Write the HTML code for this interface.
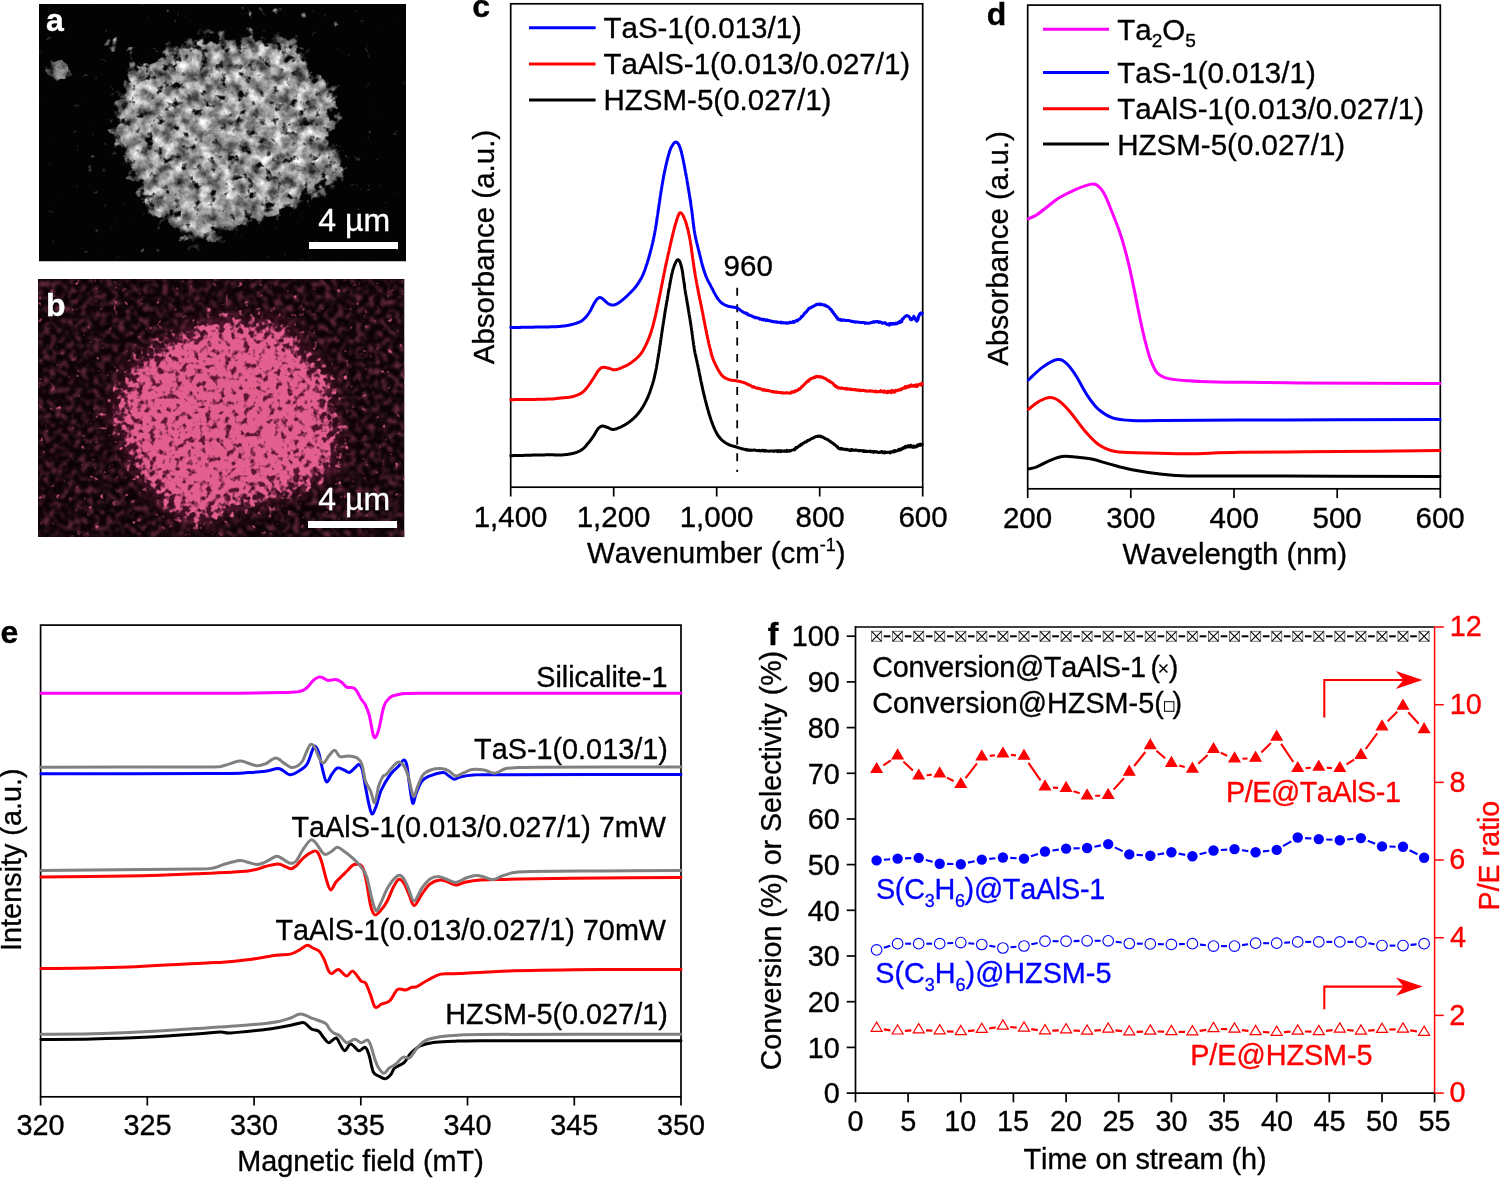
<!DOCTYPE html><html><head><meta charset="utf-8"><style>html,body{margin:0;padding:0;background:#fff;overflow:hidden}svg{display:block}text{font-family:"Liberation Sans",sans-serif;font-kerning:none;font-feature-settings:"kern" 0;stroke-width:0.35px;stroke-linejoin:round}</style></head><body>
<svg width="1500" height="1178" viewBox="0 0 1500 1178" style="will-change:transform">
<rect width="1500" height="1178" fill="#fff"/>
<defs>
<filter id="texA" x="0" y="0" width="1" height="1" color-interpolation-filters="sRGB">
 <feTurbulence type="fractalNoise" baseFrequency="0.05" numOctaves="4" seed="7"/>
 <feColorMatrix type="matrix" values="1.15 0 0 0 0  1.15 0 0 0 0  1.15 0 0 0 0  0 0 0 0 1"/>
</filter>
<filter id="blurA" x="-20%" y="-20%" width="140%" height="140%"><feTurbulence type="fractalNoise" baseFrequency="0.07" numOctaves="3" seed="2" result="t"/><feDisplacementMap in="SourceGraphic" in2="t" scale="22" xChannelSelector="R" yChannelSelector="G"/><feGaussianBlur stdDeviation="2.5"/></filter>
<filter id="blurA2" x="-50%" y="-50%" width="200%" height="200%"><feGaussianBlur stdDeviation="3"/></filter>
<filter id="blurB" x="-20%" y="-20%" width="140%" height="140%"><feTurbulence type="fractalNoise" baseFrequency="0.05" numOctaves="2" seed="9" result="t"/><feDisplacementMap in="SourceGraphic" in2="t" scale="26" xChannelSelector="R" yChannelSelector="G"/><feGaussianBlur stdDeviation="7"/></filter>
<filter id="texB1" x="0" y="0" width="1" height="1" color-interpolation-filters="sRGB">
 <feTurbulence type="fractalNoise" baseFrequency="0.16" numOctaves="2" seed="11"/>
 <feColorMatrix type="matrix" values="0 0 0 0 0.89  0 0 0 0 0.38  0 0 0 0 0.55  6 0 0 0 -1.75"/>
 <feGaussianBlur stdDeviation="0.7"/>
</filter>
<filter id="texB2" x="0" y="0" width="1" height="1" color-interpolation-filters="sRGB">
 <feTurbulence type="fractalNoise" baseFrequency="0.17" numOctaves="2" seed="4"/>
 <feColorMatrix type="matrix" values="0 0 0 0 0.55  0 0 0 0 0.17  0 0 0 0 0.33  4 0 0 0 -2.15"/>
 <feGaussianBlur stdDeviation="0.7"/>
</filter>
<filter id="fBlob" x="-40%" y="-40%" width="180%" height="180%" color-interpolation-filters="sRGB">
 <feTurbulence type="fractalNoise" baseFrequency="0.06" numOctaves="2" seed="9" result="t"/>
 <feDisplacementMap in="SourceGraphic" in2="t" scale="30" xChannelSelector="R" yChannelSelector="G" result="d"/>
 <feGaussianBlur in="d" stdDeviation="11" result="m"/>
 <feTurbulence type="fractalNoise" baseFrequency="0.16" numOctaves="2" seed="4" result="n"/>
 <feColorMatrix in="n" type="matrix" values="0 0 0 0 0  0 0 0 0 0  0 0 0 0 0  1 0 0 0 0" result="na"/>
 <feComposite in="m" in2="na" operator="arithmetic" k1="0" k2="2.15" k3="5" k4="-3.5" result="c"/>
 <feFlood flood-color="#e3608e" result="f"/>
 <feComposite in="f" in2="c" operator="in"/>
</filter>
<filter id="fBg" x="0" y="0" width="1" height="1" color-interpolation-filters="sRGB">
 <feTurbulence type="fractalNoise" baseFrequency="0.16" numOctaves="3" seed="21" result="n"/>
 <feColorMatrix in="n" type="matrix" values="0 0 0 0 0.4  0 0 0 0 0.16  0 0 0 0 0.25  3.5 0 0 0 -1.62"/>
 <feGaussianBlur stdDeviation="0.8"/>
</filter>
<filter id="fSpots" x="-40%" y="-40%" width="180%" height="180%" color-interpolation-filters="sRGB">
 <feTurbulence type="fractalNoise" baseFrequency="0.06" numOctaves="2" seed="9" result="t"/>
 <feDisplacementMap in="SourceGraphic" in2="t" scale="30" xChannelSelector="R" yChannelSelector="G" result="d"/>
 <feGaussianBlur in="d" stdDeviation="11" result="m"/>
 <feFlood flood-color="#5a1430"/>
 <feComposite in2="m" operator="in"/>
</filter>
<filter id="fA" x="-40%" y="-40%" width="180%" height="180%" color-interpolation-filters="sRGB">
 <feTurbulence type="fractalNoise" baseFrequency="0.07" numOctaves="3" seed="2" result="t"/>
 <feDisplacementMap in="SourceGraphic" in2="t" scale="22" xChannelSelector="R" yChannelSelector="G" result="d"/>
 <feGaussianBlur in="d" stdDeviation="7" result="m"/>
 <feTurbulence type="fractalNoise" baseFrequency="0.11" numOctaves="3" seed="5" result="n"/>
 <feColorMatrix in="n" type="matrix" values="0 0 0 0 0  0 0 0 0 0  0 0 0 0 0  1 0 0 0 0" result="na"/>
 <feComposite in="m" in2="na" operator="arithmetic" k1="0" k2="2.7" k3="5" k4="-3.75" result="c"/>
 <feTurbulence type="fractalNoise" baseFrequency="0.085" numOctaves="3" seed="7" result="g"/>
 <feColorMatrix in="g" type="matrix" values="1.25 0 0 0 -0.03  1.25 0 0 0 -0.03  1.25 0 0 0 -0.03  0 0 0 0 1" result="gray"/>
 <feColorMatrix in="m" type="matrix" values="0 0 0 0 0  0 0 0 0 0  0 0 0 0 0  0 0 0 -0.5 0.5" result="shade"/>
 <feComposite in="shade" in2="gray" operator="over" result="gs"/>
 <feComposite in="gs" in2="c" operator="in"/>
</filter>
<filter id="fP" x="-60%" y="-60%" width="220%" height="220%" color-interpolation-filters="sRGB">
 <feGaussianBlur in="SourceGraphic" stdDeviation="3" result="m"/>
 <feTurbulence type="fractalNoise" baseFrequency="0.15" numOctaves="2" seed="13" result="n"/>
 <feColorMatrix in="n" type="matrix" values="0 0 0 0 0  0 0 0 0 0  0 0 0 0 0  1 0 0 0 0" result="na"/>
 <feComposite in="m" in2="na" operator="arithmetic" k1="0" k2="3.3" k3="5" k4="-4.3" result="c"/>
 <feTurbulence type="fractalNoise" baseFrequency="0.09" numOctaves="3" seed="8" result="g"/>
 <feColorMatrix in="g" type="matrix" values="1.0 0 0 0 -0.1  1.0 0 0 0 -0.1  1.0 0 0 0 -0.1  0 0 0 0 1" result="gray"/>
 <feComposite in="gray" in2="c" operator="in"/>
</filter>
<clipPath id="cA"><rect x="39" y="4" width="367" height="257.5"/></clipPath>
<clipPath id="cB"><rect x="38" y="279" width="366.5" height="258"/></clipPath>
<mask id="mA" maskUnits="userSpaceOnUse" x="0" y="0" width="1500" height="1178"><rect x="0" y="0" width="1500" height="1178" fill="#000"/>
<path filter="url(#blurA)" fill="#fff" d="M215,35 L235,41 L259,36 L289,38 L306,53 L308,72 L333,87 L338,107 L333,131 L340,156 L345,178 L328,190 L308,200 L284,212 L259,219 L235,229 L210,239 L191,244 L176,229 L154,214 L137,197 L132,175 L120,156 L110,141 L117,112 L122,85 L132,65 L154,58 L171,53 L191,41 Z"/>
</mask>
<mask id="mA2" maskUnits="userSpaceOnUse" x="0" y="0" width="1500" height="1178"><rect x="0" y="0" width="1500" height="1178" fill="#000"/>
<g filter="url(#blurA2)" fill="#fff">
<ellipse cx="58" cy="70" rx="12" ry="9" opacity="0.75"/>
<ellipse cx="110" cy="44" rx="9" ry="8" opacity="0.45"/>
<ellipse cx="128" cy="48" rx="6" ry="6" opacity="0.4"/>
<ellipse cx="265" cy="12" rx="30" ry="8" opacity="0.3"/>
<ellipse cx="305" cy="10" rx="14" ry="7" opacity="0.35"/>
<ellipse cx="170" cy="14" rx="18" ry="7" opacity="0.25"/>
<ellipse cx="90" cy="160" rx="5" ry="16" opacity="0.3"/>
<ellipse cx="370" cy="200" rx="18" ry="22" opacity="0.15"/>
<ellipse cx="335" cy="30" rx="12" ry="12" opacity="0.2"/>
</g>
</mask>
<mask id="mB" maskUnits="userSpaceOnUse" x="0" y="0" width="1500" height="1178"><rect x="0" y="0" width="1500" height="1178" fill="#000"/>
<path filter="url(#blurB)" fill="#fff" d="M175,338 L209,326 L246,321 L283,326 L300,338 L307,360 L329,372 L332,394 L329,416 L334,438 L339,458 L327,472 L295,489 L263,499 L229,511 L195,521 L175,516 L155,494 L141,475 L131,455 L119,436 L114,416 L121,389 L131,367 L151,350 Z"/>
</mask>
<mask id="mBo" maskUnits="userSpaceOnUse" x="0" y="0" width="1500" height="1178"><rect x="0" y="0" width="1500" height="1178" fill="#fff"/>
<path filter="url(#blurB)" fill="#000" d="M175,338 L209,326 L246,321 L283,326 L300,338 L307,360 L329,372 L332,394 L329,416 L334,438 L339,458 L327,472 L295,489 L263,499 L229,511 L195,521 L175,516 L155,494 L141,475 L131,455 L119,436 L114,416 L121,389 L131,367 L151,350 Z"/>
</mask>
</defs>
<g clip-path="url(#cA)">
<rect x="39" y="4" width="367" height="257.5" fill="#030303"/>
<g filter="url(#fP)" fill="#fff"><ellipse cx="58" cy="70" rx="14" ry="11"/><ellipse cx="112" cy="44" rx="10" ry="9" opacity="0.75"/><ellipse cx="132" cy="50" rx="7" ry="7" opacity="0.5"/><ellipse cx="150" cy="58" rx="9" ry="6" opacity="0.5"/><ellipse cx="265" cy="12" rx="32" ry="9" opacity="0.4"/><ellipse cx="312" cy="12" rx="16" ry="8" opacity="0.45"/><ellipse cx="175" cy="14" rx="20" ry="8" opacity="0.35"/><ellipse cx="92" cy="160" rx="5" ry="17" opacity="0.45"/><ellipse cx="370" cy="200" rx="18" ry="22" opacity="0.25"/><ellipse cx="340" cy="30" rx="12" ry="12" opacity="0.3"/></g>
<path d="M215,35 L235,41 L259,36 L289,38 L306,53 L308,72 L333,87 L338,107 L333,131 L340,156 L345,178 L328,190 L308,200 L284,212 L259,219 L235,229 L210,239 L191,244 L176,229 L154,214 L137,197 L132,175 L120,156 L110,141 L117,112 L122,85 L132,65 L154,58 L171,53 L191,41 Z" fill="#fff" filter="url(#fA)"/>
</g>
<rect x="309" y="242" width="89" height="7" fill="#fff"/>
<text x="318.3" y="230.6" font-size="32" fill="#fff" stroke="#fff" text-anchor="start">4 µm</text>
<text x="46.1" y="31.4" font-size="32" fill="#fff" stroke="#fff" text-anchor="start" font-weight="bold">a</text>
<g clip-path="url(#cB)">
<rect x="38" y="279" width="366.5" height="258" fill="#0d0306"/>
<rect x="38" y="279" width="366.5" height="258" filter="url(#fBg)"/>
<path d="M175,338 L209,326 L246,321 L283,326 L300,338 L307,360 L329,372 L332,394 L329,416 L334,438 L339,458 L327,472 L295,489 L263,499 L229,511 L195,521 L175,516 L155,494 L141,475 L131,455 L119,436 L114,416 L121,389 L131,367 L151,350 Z" fill="#fff" filter="url(#fSpots)"/>
<path d="M175,338 L209,326 L246,321 L283,326 L300,338 L307,360 L329,372 L332,394 L329,416 L334,438 L339,458 L327,472 L295,489 L263,499 L229,511 L195,521 L175,516 L155,494 L141,475 L131,455 L119,436 L114,416 L121,389 L131,367 L151,350 Z" fill="#fff" filter="url(#fBlob)"/>
</g>
<rect x="308" y="521" width="89" height="7" fill="#fff"/>
<text x="318.3" y="509.5" font-size="32" fill="#fff" stroke="#fff" text-anchor="start">4 µm</text>
<text x="45.9" y="315.9" font-size="32" fill="#fff" stroke="#fff" text-anchor="start" font-weight="bold">b</text>
<rect x="510.7" y="3.8" width="412.00000000000006" height="483.4" fill="none" stroke="#000" stroke-width="1.7"/>
<line x1="510.7" y1="487.2" x2="510.7" y2="496.5" stroke="#000" stroke-width="1.7"/>
<text x="473.7" y="526.5" font-size="29.5" fill="#000" stroke="#000" text-anchor="start">1,400</text>
<line x1="613.7" y1="487.2" x2="613.7" y2="496.5" stroke="#000" stroke-width="1.7"/>
<text x="576.7" y="526.5" font-size="29.5" fill="#000" stroke="#000" text-anchor="start">1,200</text>
<line x1="716.7" y1="487.2" x2="716.7" y2="496.5" stroke="#000" stroke-width="1.7"/>
<text x="679.7" y="526.5" font-size="29.5" fill="#000" stroke="#000" text-anchor="start">1,000</text>
<line x1="819.7" y1="487.2" x2="819.7" y2="496.5" stroke="#000" stroke-width="1.7"/>
<text x="795.5" y="526.5" font-size="29.5" fill="#000" stroke="#000" text-anchor="start">800</text>
<line x1="922.7" y1="487.2" x2="922.7" y2="496.5" stroke="#000" stroke-width="1.7"/>
<text x="898.4" y="526.5" font-size="29.5" fill="#000" stroke="#000" text-anchor="start">600</text>
<text x="587" y="563.2" font-size="29.5" fill="#000" stroke="#000">Wavenumber (cm<tspan font-size="18" dy="-12.5">-1</tspan><tspan dy="12.5">)</tspan></text>
<text transform="translate(493.9,247.04) rotate(-90)" font-size="29.5" text-anchor="middle" fill="#000" stroke="#000">Absorbance (a.u.)</text>
<text x="472.2" y="17.2" font-size="32" fill="#000" stroke="#000" text-anchor="start" font-weight="bold">c</text>
<line x1="529" y1="27.7" x2="595.6" y2="27.7" stroke="#0000ff" stroke-width="3"/>
<text x="603.5" y="38.3" font-size="29.5" fill="#000" stroke="#000" text-anchor="start">TaS-1(0.013/1)</text>
<line x1="529" y1="64" x2="595.6" y2="64" stroke="#ff0000" stroke-width="3"/>
<text x="603.5" y="74.2" font-size="29.5" fill="#000" stroke="#000" text-anchor="start">TaAlS-1(0.013/0.027/1)</text>
<line x1="529" y1="100" x2="595.6" y2="100" stroke="#000" stroke-width="3"/>
<text x="603.5" y="110.4" font-size="29.5" fill="#000" stroke="#000" text-anchor="start">HZSM-5(0.027/1)</text>
<text x="723.6" y="276.4" font-size="29.5" fill="#000" stroke="#000" text-anchor="start">960</text>
<line x1="737.2" y1="287.8" x2="737.2" y2="472.1" stroke="#000" stroke-width="1.8" stroke-dasharray="8,8.55"/>
<path d="M510.8,455.7 L511.1,455.7 L511.5,455.7 L511.8,455.7 L512.2,455.7 L512.6,455.7 L513.1,455.6 L513.5,455.6 L514.0,455.6 L514.5,455.6 L515.0,455.6 L515.5,455.6 L516.1,455.6 L516.7,455.6 L517.2,455.5 L517.8,455.5 L518.5,455.5 L519.1,455.5 L519.7,455.5 L520.4,455.5 L521.0,455.4 L521.7,455.4 L522.4,455.4 L523.1,455.4 L523.8,455.4 L524.5,455.3 L525.2,455.3 L525.9,455.3 L526.6,455.3 L527.4,455.3 L528.1,455.3 L528.8,455.2 L529.6,455.2 L530.3,455.2 L531.0,455.2 L531.8,455.2 L532.5,455.1 L533.2,455.1 L533.9,455.1 L534.7,455.1 L535.4,455.1 L536.1,455.1 L536.8,455.0 L537.5,455.0 L538.2,455.0 L538.9,455.0 L539.5,455.0 L540.2,455.0 L540.8,454.9 L541.5,454.9 L542.1,454.9 L542.7,454.9 L543.3,454.9 L543.9,454.9 L544.5,454.9 L545.0,454.9 L545.5,454.8 L546.0,454.8 L546.5,454.8 L547.0,454.8 L547.5,454.8 L547.9,454.8 L548.3,454.8 L549.5,454.8 L550.6,454.8 L551.6,454.8 L552.4,454.8 L553.2,454.8 L553.9,454.8 L554.5,454.9 L555.0,454.9 L555.5,454.9 L556.0,454.9 L556.4,455.0 L556.8,455.0 L557.2,455.0 L557.6,455.0 L558.0,455.0 L558.4,455.0 L558.9,455.0 L559.4,455.0 L560.0,455.0 L560.6,455.0 L561.2,454.9 L561.8,454.9 L562.4,454.9 L563.1,454.8 L563.7,454.8 L564.3,454.7 L564.9,454.7 L565.6,454.6 L566.2,454.5 L566.8,454.5 L567.4,454.4 L568.0,454.3 L568.7,454.2 L569.3,454.1 L569.8,454.1 L570.4,453.9 L571.0,453.8 L571.6,453.7 L572.1,453.6 L572.8,453.4 L573.4,453.3 L574.1,453.1 L574.7,452.9 L575.3,452.7 L576.0,452.5 L576.6,452.3 L577.2,452.1 L577.7,451.8 L578.3,451.6 L578.9,451.3 L579.4,451.1 L580.0,450.8 L580.5,450.5 L581.0,450.2 L581.5,449.9 L582.0,449.6 L582.5,449.2 L583.0,448.8 L583.5,448.4 L583.9,448.0 L584.4,447.5 L584.8,447.1 L585.2,446.7 L585.6,446.2 L586.0,445.7 L586.4,445.3 L586.8,444.8 L587.2,444.3 L587.6,443.9 L588.0,443.4 L588.4,442.9 L588.8,442.5 L589.2,442.0 L589.6,441.5 L590.0,441.0 L590.3,440.5 L590.7,440.0 L591.1,439.5 L591.5,438.9 L591.8,438.4 L592.2,437.9 L592.6,437.4 L592.9,436.9 L593.3,436.4 L593.6,435.9 L594.0,435.4 L594.3,434.8 L594.7,434.2 L595.0,433.6 L595.4,433.0 L595.7,432.4 L596.0,431.8 L596.4,431.3 L596.7,430.7 L597.0,430.2 L597.3,429.7 L597.7,429.2 L598.0,428.8 L598.3,428.4 L598.9,427.8 L599.5,427.3 L600.1,426.9 L600.7,426.6 L601.2,426.3 L601.9,426.2 L602.5,426.1 L603.1,426.1 L603.7,426.2 L604.3,426.3 L604.9,426.5 L605.6,426.8 L606.2,427.0 L606.9,427.3 L607.6,427.5 L608.2,427.7 L608.7,427.9 L609.2,428.2 L609.8,428.5 L610.4,428.8 L610.9,429.0 L611.6,429.2 L612.2,429.4 L612.9,429.4 L613.7,429.4 L614.2,429.3 L614.7,429.2 L615.2,429.1 L615.8,429.0 L616.3,428.8 L616.9,428.6 L617.5,428.4 L618.1,428.1 L618.7,427.9 L619.3,427.6 L619.9,427.4 L620.5,427.1 L621.2,426.8 L621.8,426.5 L622.3,426.2 L622.9,425.9 L623.5,425.6 L624.0,425.3 L624.6,425.0 L625.1,424.7 L625.6,424.4 L626.2,424.0 L626.7,423.7 L627.2,423.4 L627.8,423.0 L628.3,422.6 L628.8,422.3 L629.3,421.9 L629.9,421.5 L630.4,421.1 L630.9,420.7 L631.4,420.3 L631.8,419.9 L632.3,419.5 L632.8,419.1 L633.3,418.7 L633.7,418.3 L634.2,417.8 L634.6,417.4 L635.0,417.0 L635.5,416.5 L635.9,416.1 L636.3,415.7 L636.7,415.2 L637.1,414.7 L637.5,414.3 L637.9,413.8 L638.3,413.3 L638.7,412.8 L639.1,412.3 L639.5,411.8 L639.9,411.2 L640.3,410.7 L640.6,410.2 L641.0,409.8 L641.3,409.3 L641.6,408.8 L641.9,408.3 L642.3,407.8 L642.6,407.3 L642.9,406.8 L643.2,406.3 L643.5,405.8 L643.8,405.2 L644.1,404.7 L644.4,404.2 L644.7,403.6 L645.0,403.1 L645.3,402.5 L645.6,401.9 L645.9,401.3 L646.2,400.7 L646.5,400.1 L646.8,399.5 L647.0,399.0 L647.3,398.5 L647.5,397.9 L647.7,397.4 L648.0,396.9 L648.2,396.3 L648.4,395.8 L648.6,395.2 L648.9,394.6 L649.1,394.0 L649.3,393.5 L649.5,392.9 L649.8,392.3 L650.0,391.7 L650.2,391.1 L650.4,390.5 L650.6,389.9 L650.8,389.3 L651.0,388.7 L651.2,388.1 L651.4,387.5 L651.6,386.9 L651.8,386.3 L652.0,385.7 L652.2,385.1 L652.4,384.5 L652.6,383.9 L652.7,383.4 L652.9,382.8 L653.1,382.2 L653.2,381.7 L653.4,381.1 L653.5,380.5 L653.7,380.0 L653.8,379.4 L654.0,378.9 L654.1,378.3 L654.2,377.7 L654.4,377.2 L654.5,376.6 L654.7,376.0 L654.8,375.4 L654.9,374.8 L655.0,374.3 L655.2,373.7 L655.3,373.1 L655.4,372.5 L655.6,371.9 L655.7,371.2 L655.8,370.6 L655.9,370.0 L656.1,369.3 L656.2,368.7 L656.3,368.1 L656.4,367.6 L656.5,367.0 L656.6,366.5 L656.7,365.9 L656.8,365.4 L656.9,364.8 L657.0,364.2 L657.1,363.6 L657.2,363.1 L657.3,362.5 L657.4,361.9 L657.5,361.3 L657.6,360.7 L657.7,360.1 L657.8,359.5 L657.9,358.9 L658.0,358.3 L658.1,357.7 L658.2,357.1 L658.3,356.4 L658.4,355.8 L658.5,355.2 L658.6,354.6 L658.7,353.9 L658.8,353.3 L658.9,352.7 L659.0,352.0 L659.1,351.4 L659.2,350.7 L659.3,350.1 L659.4,349.4 L659.5,348.8 L659.6,348.3 L659.7,347.7 L659.7,347.1 L659.8,346.5 L659.9,346.0 L660.0,345.4 L660.1,344.8 L660.2,344.2 L660.3,343.6 L660.4,343.0 L660.5,342.3 L660.5,341.7 L660.6,341.1 L660.7,340.5 L660.8,339.9 L660.9,339.3 L661.0,338.6 L661.1,338.0 L661.2,337.4 L661.3,336.8 L661.4,336.1 L661.4,335.5 L661.5,334.9 L661.6,334.3 L661.7,333.7 L661.8,333.0 L661.9,332.4 L662.0,331.8 L662.1,331.2 L662.2,330.6 L662.3,330.0 L662.4,329.4 L662.4,328.8 L662.5,328.2 L662.6,327.6 L662.7,327.0 L662.8,326.4 L662.9,325.8 L663.0,325.1 L663.1,324.5 L663.2,323.9 L663.3,323.3 L663.4,322.6 L663.5,322.0 L663.6,321.4 L663.7,320.8 L663.8,320.2 L663.9,319.5 L664.0,318.9 L664.1,318.3 L664.2,317.7 L664.3,317.1 L664.4,316.5 L664.5,315.9 L664.5,315.3 L664.6,314.7 L664.7,314.1 L664.8,313.5 L664.9,312.9 L665.0,312.3 L665.1,311.7 L665.2,311.1 L665.3,310.5 L665.4,309.9 L665.5,309.3 L665.6,308.7 L665.7,308.1 L665.8,307.5 L665.9,307.0 L666.0,306.4 L666.1,305.8 L666.2,305.2 L666.3,304.6 L666.4,303.9 L666.5,303.3 L666.6,302.7 L666.7,302.0 L666.8,301.4 L666.9,300.8 L667.1,300.1 L667.2,299.5 L667.3,298.9 L667.4,298.2 L667.5,297.6 L667.6,297.0 L667.7,296.4 L667.8,295.8 L667.9,295.1 L668.0,294.5 L668.1,293.9 L668.2,293.3 L668.3,292.7 L668.4,292.1 L668.5,291.5 L668.6,290.9 L668.8,290.3 L668.9,289.7 L669.0,289.1 L669.1,288.5 L669.2,288.0 L669.3,287.4 L669.4,286.8 L669.5,286.3 L669.6,285.7 L669.7,285.0 L669.8,284.4 L670.0,283.7 L670.1,283.1 L670.2,282.4 L670.3,281.8 L670.4,281.1 L670.6,280.5 L670.7,279.8 L670.8,279.2 L670.9,278.5 L671.0,277.9 L671.2,277.3 L671.3,276.7 L671.4,276.1 L671.5,275.5 L671.6,274.9 L671.8,274.3 L671.9,273.7 L672.0,273.2 L672.2,272.6 L672.3,272.1 L672.4,271.5 L672.6,271.0 L672.7,270.5 L672.9,270.0 L673.0,269.5 L673.2,268.7 L673.5,268.0 L673.8,267.2 L674.0,266.4 L674.3,265.7 L674.6,264.9 L674.9,264.2 L675.2,263.5 L675.5,262.9 L675.8,262.3 L676.1,261.7 L676.3,261.2 L676.6,260.8 L676.9,260.4 L677.2,260.1 L677.4,259.9 L677.7,259.8 L678.0,259.8 L678.3,259.8 L678.6,260.0 L678.9,260.2 L679.2,260.6 L679.5,261.1 L679.8,261.6 L680.1,262.3 L680.4,263.0 L680.6,263.9 L680.9,264.8 L681.2,265.9 L681.5,267.0 L681.6,267.4 L681.7,267.8 L681.8,268.3 L681.9,268.8 L682.0,269.3 L682.1,269.8 L682.2,270.3 L682.3,270.8 L682.4,271.4 L682.5,272.0 L682.6,272.6 L682.7,273.2 L682.8,273.8 L682.8,274.4 L682.9,275.0 L683.0,275.7 L683.1,276.3 L683.2,277.0 L683.3,277.7 L683.4,278.3 L683.5,279.0 L683.6,279.7 L683.7,280.4 L683.8,281.0 L683.9,281.7 L684.0,282.4 L684.1,283.1 L684.2,283.7 L684.3,284.4 L684.4,285.1 L684.5,285.7 L684.6,286.4 L684.6,287.0 L684.7,287.6 L684.8,288.2 L684.9,288.9 L685.0,289.5 L685.1,290.0 L685.2,290.6 L685.3,291.3 L685.4,291.9 L685.5,292.6 L685.6,293.2 L685.7,293.9 L685.8,294.5 L686.0,295.1 L686.1,295.8 L686.2,296.4 L686.3,297.0 L686.4,297.7 L686.5,298.3 L686.6,298.9 L686.7,299.5 L686.8,300.1 L686.9,300.8 L687.0,301.4 L687.1,302.0 L687.2,302.6 L687.3,303.2 L687.4,303.8 L687.5,304.4 L687.6,304.9 L687.7,305.5 L687.8,306.1 L687.9,306.7 L688.0,307.3 L688.1,307.9 L688.2,308.4 L688.3,309.0 L688.4,309.6 L688.5,310.1 L688.6,310.7 L688.7,311.4 L688.8,312.0 L688.9,312.6 L689.0,313.2 L689.1,313.9 L689.2,314.5 L689.3,315.1 L689.4,315.6 L689.5,316.2 L689.6,316.8 L689.7,317.4 L689.8,318.0 L689.9,318.5 L690.0,319.1 L690.1,319.7 L690.2,320.2 L690.2,320.8 L690.3,321.4 L690.4,322.0 L690.5,322.6 L690.6,323.2 L690.7,323.8 L690.8,324.4 L690.9,325.0 L691.0,325.7 L691.1,326.3 L691.2,327.0 L691.3,327.7 L691.4,328.2 L691.5,328.8 L691.5,329.4 L691.6,330.0 L691.7,330.5 L691.8,331.1 L691.9,331.7 L692.0,332.4 L692.0,333.0 L692.1,333.6 L692.2,334.2 L692.3,334.9 L692.4,335.5 L692.5,336.2 L692.6,336.8 L692.7,337.5 L692.7,338.1 L692.8,338.8 L692.9,339.4 L693.0,340.0 L693.1,340.7 L693.2,341.3 L693.3,342.0 L693.4,342.6 L693.4,343.2 L693.5,343.8 L693.6,344.5 L693.7,345.1 L693.8,345.6 L693.9,346.2 L694.0,346.8 L694.1,347.4 L694.1,347.9 L694.2,348.5 L694.3,349.0 L694.4,349.5 L694.5,350.2 L694.6,350.9 L694.8,351.6 L694.9,352.2 L695.0,352.7 L695.1,353.3 L695.2,353.8 L695.3,354.3 L695.4,354.8 L695.5,355.3 L695.6,355.8 L695.8,356.2 L695.9,356.7 L696.0,357.2 L696.1,357.8 L696.2,358.3 L696.4,358.9 L696.5,359.5 L696.6,360.1 L696.8,360.8 L697.0,361.5 L697.1,362.3 L697.3,363.1 L697.5,364.0 L697.6,364.5 L697.7,364.9 L697.8,365.4 L697.9,365.9 L698.0,366.4 L698.1,366.9 L698.2,367.4 L698.3,368.0 L698.4,368.5 L698.5,369.1 L698.7,369.6 L698.8,370.2 L698.9,370.8 L699.0,371.4 L699.1,372.0 L699.2,372.6 L699.4,373.2 L699.5,373.8 L699.6,374.4 L699.7,375.0 L699.9,375.7 L700.0,376.3 L700.1,376.9 L700.3,377.6 L700.4,378.2 L700.5,378.9 L700.7,379.5 L700.8,380.2 L700.9,380.8 L701.1,381.5 L701.2,382.1 L701.3,382.8 L701.5,383.4 L701.6,384.1 L701.7,384.7 L701.9,385.4 L702.0,386.0 L702.2,386.7 L702.3,387.3 L702.4,387.9 L702.6,388.6 L702.7,389.2 L702.8,389.8 L703.0,390.4 L703.1,391.0 L703.3,391.6 L703.4,392.2 L703.5,392.8 L703.7,393.3 L703.8,393.9 L704.0,394.5 L704.1,395.2 L704.3,395.8 L704.4,396.4 L704.6,397.1 L704.7,397.7 L704.9,398.4 L705.1,399.0 L705.2,399.6 L705.4,400.3 L705.5,400.9 L705.7,401.5 L705.9,402.2 L706.0,402.8 L706.2,403.4 L706.4,404.0 L706.5,404.7 L706.7,405.3 L706.8,405.9 L707.0,406.5 L707.2,407.1 L707.3,407.7 L707.5,408.3 L707.7,408.9 L707.8,409.5 L708.0,410.1 L708.2,410.7 L708.3,411.3 L708.5,411.9 L708.7,412.4 L708.8,413.0 L709.0,413.6 L709.2,414.1 L709.3,414.7 L709.5,415.2 L709.7,415.8 L709.8,416.3 L710.0,416.8 L710.2,417.3 L710.3,417.8 L710.5,418.3 L710.7,418.8 L710.8,419.3 L711.0,419.8 L711.2,420.5 L711.5,421.2 L711.7,421.9 L712.0,422.6 L712.2,423.2 L712.5,423.9 L712.7,424.5 L712.9,425.1 L713.2,425.7 L713.4,426.3 L713.7,426.9 L713.9,427.5 L714.1,428.1 L714.4,428.6 L714.6,429.1 L714.9,429.7 L715.1,430.2 L715.4,430.7 L715.6,431.2 L715.9,431.7 L716.1,432.2 L716.4,432.6 L716.6,433.1 L716.9,433.6 L717.1,434.0 L717.4,434.4 L717.7,434.9 L717.9,435.3 L718.2,435.7 L718.6,436.3 L719.0,436.9 L719.5,437.4 L719.9,438.0 L720.3,438.5 L720.8,438.9 L721.2,439.4 L721.6,439.8 L722.1,440.2 L722.5,440.6 L723.0,441.0 L723.5,441.3 L723.9,441.7 L724.4,442.0 L724.9,442.4 L725.3,442.7 L725.8,443.0 L726.3,443.3 L726.8,443.6 L727.4,443.9 L727.9,444.2 L728.5,444.5 L729.1,444.8 L729.7,445.0 L730.3,445.2 L731.0,445.5 L731.6,445.7 L732.2,445.9 L732.8,446.0 L733.4,446.2 L734.0,446.4 L734.6,446.5 L735.2,446.7 L735.8,446.9 L736.4,447.0 L736.9,447.2 L737.6,447.4 L738.2,447.6 L738.8,447.8 L739.4,448.0 L739.9,448.2 L740.5,448.4 L741.0,448.5 L741.6,448.7 L742.2,448.8 L742.8,449.0 L743.5,449.1 L744.2,449.3 L745.0,449.4 L745.5,449.8 L746.0,449.3 L746.4,449.9 L746.9,449.6 L747.4,449.7 L747.8,450.3 L748.3,450.0 L748.8,450.0 L749.3,450.2 L749.8,450.4 L750.4,450.2 L750.9,450.4 L751.5,450.1 L752.1,450.3 L752.8,450.3 L753.5,450.1 L754.2,450.1 L755.0,450.1 L755.8,450.5 L756.7,450.6 L757.6,450.6 L758.6,450.7 L759.0,450.4 L759.5,450.7 L760.0,450.8 L760.5,450.9 L761.0,450.6 L761.6,450.7 L762.1,450.3 L762.7,450.7 L763.3,450.3 L763.9,450.5 L764.5,451.2 L765.1,450.4 L765.8,451.1 L766.4,451.1 L767.1,450.9 L767.7,451.1 L768.4,451.2 L769.1,451.3 L769.8,451.0 L770.5,450.9 L771.2,451.0 L771.9,450.9 L772.6,451.1 L773.3,451.0 L774.0,451.4 L774.7,450.7 L775.4,450.9 L776.1,451.0 L776.8,450.7 L777.5,451.7 L778.2,450.6 L778.8,451.2 L779.5,451.1 L780.2,451.6 L780.9,450.7 L781.5,451.5 L782.2,451.0 L782.8,451.1 L783.4,451.0 L784.0,451.3 L784.6,450.8 L785.2,451.1 L785.8,451.2 L786.4,451.5 L786.9,450.4 L787.4,451.3 L788.0,451.2 L788.4,450.7 L788.9,450.9 L789.4,450.6 L789.8,451.1 L790.7,450.6 L791.6,450.3 L792.4,450.1 L793.1,449.9 L793.7,449.7 L794.3,449.2 L794.8,449.7 L795.3,448.4 L795.8,447.7 L796.2,448.3 L796.6,448.0 L797.0,447.8 L797.4,447.3 L797.8,447.0 L798.2,446.7 L798.6,446.6 L799.0,445.9 L799.4,445.5 L799.9,445.8 L800.4,445.1 L800.9,444.4 L801.5,444.9 L802.0,444.2 L802.5,443.6 L803.0,443.2 L803.5,443.3 L804.0,442.7 L804.6,442.3 L805.1,442.0 L805.7,441.8 L806.2,441.9 L806.8,441.2 L807.4,440.6 L808.0,440.8 L808.5,440.3 L809.1,440.2 L809.7,440.0 L810.3,439.3 L810.9,439.0 L811.4,438.7 L812.0,438.2 L812.6,438.3 L813.1,438.3 L813.7,437.7 L814.2,437.4 L814.7,437.2 L815.2,436.8 L815.7,436.7 L816.2,436.6 L816.7,436.4 L817.1,436.4 L817.8,436.0 L818.5,436.4 L819.2,436.3 L819.8,436.1 L820.4,435.9 L821.0,436.6 L821.5,437.0 L822.1,436.7 L822.6,437.0 L823.2,437.3 L823.7,437.8 L824.2,437.7 L824.7,438.5 L825.2,438.4 L825.8,439.0 L826.3,439.1 L826.9,439.3 L827.4,439.3 L828.0,439.8 L828.5,440.2 L829.1,440.8 L829.6,441.1 L830.2,441.2 L830.8,441.9 L831.4,442.5 L831.9,442.6 L832.5,442.9 L833.0,443.3 L833.6,444.0 L834.1,444.4 L834.6,444.4 L835.1,445.1 L835.5,445.2 L835.9,445.5 L836.3,446.2 L836.7,446.4 L837.5,446.7 L837.8,447.4 L837.9,447.9 L838.2,447.9 L838.8,448.3 L840.0,448.9 L840.4,448.3 L840.7,448.9 L841.1,449.1 L841.6,449.1 L842.0,448.7 L842.5,449.2 L843.0,448.9 L843.5,449.3 L844.0,449.4 L844.6,449.4 L845.2,449.2 L845.7,449.3 L846.3,449.7 L846.9,449.3 L847.6,449.8 L848.2,449.8 L848.8,449.7 L849.5,450.4 L850.1,449.9 L850.8,450.5 L851.5,449.5 L852.1,449.5 L852.8,450.3 L853.5,450.3 L854.2,450.1 L854.9,450.3 L855.6,449.9 L856.2,450.2 L856.9,450.2 L857.6,450.4 L858.3,450.8 L859.0,450.6 L859.6,450.7 L860.3,450.5 L861.0,450.6 L861.6,450.8 L862.2,450.8 L862.7,451.2 L863.3,450.7 L863.9,451.5 L864.5,450.8 L865.1,451.4 L865.7,451.0 L866.4,451.6 L867.0,451.3 L867.6,451.4 L868.3,451.5 L868.9,451.3 L869.5,451.2 L870.2,451.0 L870.8,451.9 L871.5,451.5 L872.1,451.5 L872.7,451.7 L873.4,452.3 L874.0,451.4 L874.7,451.9 L875.3,451.8 L875.9,452.1 L876.6,451.6 L877.2,452.0 L877.8,452.3 L878.4,452.5 L879.1,452.6 L879.7,452.0 L880.3,452.3 L880.8,452.2 L881.4,451.5 L882.0,451.5 L882.6,452.7 L883.1,452.5 L883.7,452.2 L884.2,453.0 L884.7,451.8 L885.2,452.6 L885.7,452.3 L886.2,452.3 L887.0,452.5 L887.8,452.3 L888.5,452.3 L889.3,452.2 L890.0,453.0 L890.7,451.7 L891.4,452.3 L892.0,452.0 L892.7,451.3 L893.3,451.8 L893.9,450.8 L894.5,451.8 L895.1,450.5 L895.6,450.6 L896.2,450.9 L896.7,451.0 L897.2,450.9 L897.7,450.7 L898.2,450.0 L898.7,449.4 L899.2,450.1 L899.7,449.8 L900.1,449.0 L900.6,449.9 L901.5,449.3 L902.2,448.4 L902.9,448.8 L903.5,447.6 L904.1,447.6 L904.6,448.0 L905.2,446.6 L905.7,447.3 L906.2,446.3 L906.7,447.2 L907.2,446.2 L907.8,446.6 L908.4,445.6 L909.0,446.2 L909.6,446.9 L910.2,446.6 L910.8,445.4 L911.4,447.0 L912.0,447.0 L912.6,446.3 L913.2,447.4 L913.8,446.0 L914.4,446.5 L915.0,447.1 L915.6,447.1 L916.3,446.9 L917.0,445.5 L917.7,444.9 L918.4,445.8 L919.0,444.6 L919.7,445.1 L920.3,444.2 L920.9,445.3 L921.4,445.0 L921.9,444.7 L922.2,444.3" fill="none" stroke="#000" stroke-width="3.0" stroke-linejoin="round" stroke-linecap="round"/>
<path d="M510.8,399.7 L511.1,399.7 L511.5,399.7 L511.8,399.7 L512.2,399.7 L512.6,399.7 L513.1,399.7 L513.5,399.7 L514.0,399.7 L514.5,399.6 L515.0,399.6 L515.5,399.6 L516.1,399.6 L516.7,399.6 L517.2,399.6 L517.8,399.6 L518.5,399.6 L519.1,399.6 L519.7,399.6 L520.4,399.6 L521.0,399.6 L521.7,399.6 L522.4,399.5 L523.1,399.5 L523.8,399.5 L524.5,399.5 L525.2,399.5 L525.9,399.5 L526.6,399.5 L527.4,399.5 L528.1,399.5 L528.8,399.5 L529.6,399.5 L530.3,399.4 L531.0,399.4 L531.8,399.4 L532.5,399.4 L533.2,399.4 L533.9,399.4 L534.7,399.4 L535.4,399.4 L536.1,399.4 L536.8,399.3 L537.5,399.3 L538.2,399.3 L538.9,399.3 L539.5,399.3 L540.2,399.3 L540.8,399.3 L541.5,399.3 L542.1,399.3 L542.7,399.2 L543.3,399.2 L543.9,399.2 L544.5,399.2 L545.0,399.2 L545.5,399.2 L546.0,399.2 L546.5,399.2 L547.0,399.1 L547.5,399.1 L547.9,399.1 L548.3,399.1 L549.5,399.1 L550.6,399.0 L551.6,399.0 L552.4,398.9 L553.2,398.9 L553.9,398.8 L554.5,398.8 L555.0,398.7 L555.5,398.7 L556.0,398.6 L556.4,398.6 L556.8,398.5 L557.2,398.5 L557.6,398.4 L558.0,398.3 L558.4,398.3 L558.9,398.2 L559.4,398.2 L560.0,398.1 L560.6,398.0 L561.2,398.0 L561.8,397.9 L562.4,397.9 L563.1,397.8 L563.7,397.8 L564.3,397.7 L564.9,397.7 L565.6,397.6 L566.2,397.6 L566.8,397.5 L567.4,397.4 L568.0,397.4 L568.7,397.3 L569.3,397.2 L569.8,397.1 L570.4,397.0 L571.0,396.9 L571.6,396.8 L572.1,396.7 L572.8,396.5 L573.4,396.4 L574.1,396.2 L574.7,396.0 L575.3,395.8 L576.0,395.6 L576.6,395.4 L577.2,395.2 L577.7,394.9 L578.3,394.7 L578.9,394.4 L579.4,394.2 L580.0,393.9 L580.5,393.6 L581.0,393.3 L581.5,393.0 L582.0,392.6 L582.5,392.3 L583.0,391.9 L583.5,391.5 L583.9,391.1 L584.4,390.7 L584.8,390.2 L585.2,389.8 L585.6,389.3 L586.0,388.8 L586.4,388.4 L586.8,387.9 L587.2,387.4 L587.6,386.9 L588.0,386.4 L588.4,385.9 L588.7,385.4 L589.1,384.9 L589.5,384.4 L589.8,383.9 L590.2,383.4 L590.5,382.8 L590.9,382.3 L591.2,381.8 L591.5,381.2 L591.9,380.7 L592.2,380.1 L592.6,379.6 L592.9,379.1 L593.3,378.5 L593.6,378.0 L594.0,377.5 L594.3,376.9 L594.7,376.3 L595.0,375.8 L595.4,375.2 L595.8,374.6 L596.1,374.0 L596.5,373.4 L596.8,372.9 L597.2,372.3 L597.6,371.8 L597.9,371.3 L598.2,370.8 L598.6,370.4 L598.9,370.0 L599.2,369.6 L599.9,368.9 L600.5,368.4 L601.0,368.0 L601.6,367.7 L602.2,367.5 L602.8,367.4 L603.4,367.3 L604.0,367.3 L604.6,367.3 L605.2,367.4 L605.9,367.5 L606.5,367.7 L607.2,367.9 L607.9,368.0 L608.6,368.2 L609.1,368.3 L609.7,368.5 L610.2,368.7 L610.8,368.9 L611.4,369.1 L611.9,369.3 L612.5,369.5 L613.2,369.7 L613.8,369.8 L614.4,369.8 L615.1,369.8 L615.6,369.7 L616.2,369.6 L616.8,369.5 L617.4,369.3 L618.0,369.1 L618.7,368.9 L619.3,368.6 L619.9,368.4 L620.5,368.1 L621.2,367.8 L621.8,367.6 L622.4,367.3 L622.9,367.0 L623.5,366.8 L624.1,366.5 L624.7,366.3 L625.2,366.1 L625.8,365.8 L626.3,365.6 L626.8,365.3 L627.3,365.1 L627.9,364.8 L628.4,364.5 L629.0,364.1 L629.6,363.7 L630.2,363.3 L630.6,363.0 L631.1,362.7 L631.5,362.3 L632.0,362.0 L632.5,361.6 L633.0,361.2 L633.5,360.8 L634.0,360.4 L634.6,360.0 L635.1,359.6 L635.6,359.1 L636.1,358.7 L636.6,358.3 L637.1,357.8 L637.6,357.4 L638.0,356.9 L638.5,356.5 L638.9,356.0 L639.3,355.6 L639.7,355.1 L640.1,354.6 L640.5,354.2 L640.9,353.7 L641.2,353.2 L641.6,352.7 L641.9,352.2 L642.2,351.7 L642.6,351.2 L642.9,350.7 L643.2,350.2 L643.5,349.6 L643.8,349.1 L644.1,348.6 L644.4,348.0 L644.7,347.4 L645.0,346.8 L645.3,346.3 L645.5,345.8 L645.8,345.3 L646.0,344.8 L646.3,344.2 L646.5,343.7 L646.8,343.2 L647.0,342.6 L647.3,342.0 L647.5,341.5 L647.8,340.9 L648.0,340.3 L648.2,339.8 L648.5,339.2 L648.7,338.6 L649.0,338.0 L649.2,337.4 L649.4,336.8 L649.7,336.1 L649.9,335.5 L650.1,334.9 L650.3,334.4 L650.5,333.8 L650.7,333.3 L650.9,332.7 L651.0,332.2 L651.2,331.6 L651.4,331.0 L651.6,330.5 L651.7,329.9 L651.9,329.3 L652.1,328.8 L652.2,328.2 L652.4,327.6 L652.6,327.0 L652.8,326.4 L652.9,325.8 L653.1,325.1 L653.3,324.5 L653.4,323.9 L653.6,323.2 L653.8,322.6 L653.9,321.9 L654.1,321.2 L654.3,320.5 L654.4,320.0 L654.6,319.5 L654.7,318.9 L654.8,318.4 L655.0,317.8 L655.1,317.2 L655.2,316.7 L655.4,316.1 L655.5,315.5 L655.6,314.9 L655.8,314.3 L655.9,313.7 L656.0,313.1 L656.2,312.5 L656.3,311.8 L656.4,311.2 L656.6,310.6 L656.7,310.0 L656.8,309.4 L657.0,308.7 L657.1,308.1 L657.2,307.5 L657.4,306.9 L657.5,306.3 L657.6,305.7 L657.7,305.1 L657.9,304.5 L658.0,303.9 L658.1,303.3 L658.2,302.7 L658.4,302.1 L658.5,301.6 L658.6,301.0 L658.7,300.4 L658.9,299.7 L659.0,299.1 L659.1,298.4 L659.3,297.8 L659.4,297.2 L659.5,296.6 L659.6,296.0 L659.8,295.4 L659.9,294.7 L660.0,294.1 L660.1,293.5 L660.2,292.9 L660.4,292.3 L660.5,291.7 L660.6,291.2 L660.7,290.6 L660.8,290.0 L660.9,289.4 L661.1,288.8 L661.2,288.2 L661.3,287.6 L661.4,287.0 L661.5,286.4 L661.6,285.8 L661.8,285.2 L661.9,284.6 L662.0,284.0 L662.1,283.4 L662.2,282.8 L662.4,282.2 L662.5,281.6 L662.6,281.0 L662.7,280.4 L662.8,279.8 L663.0,279.1 L663.1,278.5 L663.2,277.9 L663.3,277.3 L663.4,276.7 L663.6,276.1 L663.7,275.5 L663.8,274.9 L663.9,274.3 L664.0,273.7 L664.2,273.1 L664.3,272.5 L664.4,271.9 L664.5,271.2 L664.6,270.6 L664.8,270.0 L664.9,269.4 L665.0,268.8 L665.1,268.2 L665.3,267.6 L665.4,267.0 L665.5,266.4 L665.7,265.8 L665.8,265.2 L665.9,264.6 L666.0,264.0 L666.2,263.4 L666.3,262.8 L666.4,262.2 L666.6,261.6 L666.7,261.0 L666.8,260.4 L667.0,259.8 L667.1,259.2 L667.2,258.6 L667.4,258.0 L667.5,257.5 L667.6,256.9 L667.8,256.3 L667.9,255.7 L668.0,255.1 L668.2,254.5 L668.3,253.9 L668.4,253.4 L668.6,252.8 L668.7,252.2 L668.8,251.7 L669.0,251.1 L669.1,250.5 L669.2,250.0 L669.3,249.3 L669.5,248.7 L669.6,248.0 L669.8,247.4 L669.9,246.8 L670.1,246.1 L670.2,245.5 L670.3,244.9 L670.5,244.3 L670.6,243.6 L670.8,243.0 L670.9,242.4 L671.0,241.8 L671.2,241.2 L671.3,240.6 L671.4,240.0 L671.6,239.4 L671.7,238.9 L671.8,238.3 L672.0,237.7 L672.1,237.2 L672.2,236.6 L672.4,236.0 L672.5,235.5 L672.7,234.9 L672.8,234.2 L673.0,233.6 L673.1,233.0 L673.3,232.4 L673.4,231.8 L673.5,231.2 L673.7,230.6 L673.8,230.0 L674.0,229.4 L674.1,228.9 L674.3,228.3 L674.4,227.7 L674.6,227.2 L674.7,226.6 L674.9,226.1 L675.1,225.5 L675.2,224.9 L675.4,224.4 L675.6,223.8 L675.8,223.2 L676.0,222.5 L676.2,221.8 L676.4,221.1 L676.6,220.4 L676.9,219.6 L677.1,218.9 L677.3,218.2 L677.6,217.5 L677.8,216.8 L678.0,216.1 L678.3,215.5 L678.5,214.9 L678.8,214.4 L679.0,213.9 L679.3,213.5 L679.5,213.2 L679.8,212.9 L680.0,212.8 L680.3,212.7 L680.7,212.8 L681.1,213.0 L681.4,213.2 L681.8,213.6 L682.2,214.1 L682.5,214.6 L682.9,215.3 L683.3,215.9 L683.6,216.7 L684.0,217.5 L684.4,218.4 L684.7,219.3 L685.1,220.2 L685.3,220.6 L685.4,221.0 L685.6,221.5 L685.7,221.9 L685.9,222.4 L686.0,222.9 L686.2,223.4 L686.3,223.9 L686.5,224.4 L686.6,224.9 L686.8,225.4 L686.9,226.0 L687.1,226.5 L687.2,227.1 L687.4,227.7 L687.5,228.2 L687.7,228.8 L687.8,229.4 L688.0,230.1 L688.1,230.7 L688.3,231.3 L688.4,232.0 L688.6,232.7 L688.7,233.3 L688.9,234.0 L689.0,234.7 L689.2,235.5 L689.3,236.2 L689.5,236.9 L689.6,237.7 L689.8,238.4 L689.9,239.2 L690.0,239.7 L690.1,240.2 L690.2,240.7 L690.3,241.3 L690.4,241.8 L690.4,242.3 L690.5,242.9 L690.6,243.5 L690.7,244.1 L690.8,244.7 L690.9,245.3 L691.0,245.9 L691.1,246.5 L691.2,247.1 L691.3,247.7 L691.4,248.3 L691.5,249.0 L691.5,249.6 L691.6,250.3 L691.7,250.9 L691.8,251.6 L691.9,252.2 L692.0,252.9 L692.1,253.5 L692.2,254.2 L692.3,254.8 L692.4,255.5 L692.4,256.2 L692.5,256.8 L692.6,257.5 L692.7,258.1 L692.8,258.8 L692.9,259.4 L693.0,260.1 L693.1,260.7 L693.1,261.3 L693.2,262.0 L693.3,262.6 L693.4,263.2 L693.5,263.8 L693.6,264.4 L693.7,265.0 L693.7,265.6 L693.8,266.2 L693.9,266.8 L694.0,267.3 L694.1,267.9 L694.2,268.4 L694.2,269.0 L694.3,269.5 L694.4,270.0 L694.5,270.7 L694.6,271.5 L694.8,272.2 L694.9,272.9 L695.0,273.6 L695.1,274.2 L695.2,274.9 L695.3,275.5 L695.4,276.1 L695.5,276.8 L695.6,277.4 L695.7,278.0 L695.9,278.6 L696.0,279.1 L696.1,279.7 L696.2,280.3 L696.3,280.9 L696.4,281.4 L696.5,282.0 L696.6,282.5 L696.7,283.1 L696.8,283.6 L696.9,284.2 L697.0,284.7 L697.1,285.3 L697.2,285.8 L697.3,286.4 L697.4,286.9 L697.5,287.5 L697.7,288.1 L697.8,288.6 L697.9,289.2 L698.0,289.8 L698.1,290.4 L698.2,291.0 L698.3,291.6 L698.4,292.2 L698.6,292.8 L698.7,293.4 L698.8,294.0 L698.9,294.6 L699.0,295.2 L699.2,295.8 L699.3,296.4 L699.4,297.0 L699.5,297.6 L699.6,298.2 L699.8,298.8 L699.9,299.4 L700.0,300.0 L700.1,300.5 L700.3,301.1 L700.4,301.7 L700.5,302.3 L700.6,302.9 L700.7,303.5 L700.9,304.1 L701.0,304.7 L701.1,305.3 L701.2,305.9 L701.4,306.5 L701.5,307.1 L701.6,307.7 L701.7,308.3 L701.8,308.9 L702.0,309.5 L702.1,310.1 L702.2,310.7 L702.3,311.3 L702.4,311.9 L702.6,312.5 L702.7,313.1 L702.8,313.7 L702.9,314.3 L703.0,314.9 L703.1,315.5 L703.3,316.1 L703.4,316.8 L703.5,317.4 L703.6,318.0 L703.7,318.6 L703.8,319.2 L704.0,319.8 L704.1,320.4 L704.2,321.0 L704.3,321.6 L704.4,322.2 L704.6,322.8 L704.7,323.4 L704.8,324.0 L704.9,324.6 L705.0,325.2 L705.1,325.8 L705.3,326.4 L705.4,327.0 L705.5,327.6 L705.6,328.2 L705.7,328.8 L705.8,329.4 L706.0,330.0 L706.1,330.5 L706.2,331.1 L706.3,331.7 L706.5,332.4 L706.6,333.0 L706.7,333.6 L706.9,334.3 L707.0,334.9 L707.1,335.5 L707.3,336.2 L707.4,336.8 L707.5,337.4 L707.7,338.1 L707.8,338.7 L707.9,339.3 L708.1,339.9 L708.2,340.5 L708.3,341.2 L708.5,341.8 L708.6,342.4 L708.8,343.0 L708.9,343.6 L709.0,344.1 L709.2,344.7 L709.3,345.3 L709.4,345.9 L709.5,346.4 L709.7,346.9 L709.8,347.5 L709.9,348.0 L710.1,348.5 L710.2,349.0 L710.3,349.5 L710.5,350.2 L710.7,350.9 L710.8,351.6 L711.0,352.2 L711.1,352.8 L711.3,353.4 L711.4,354.0 L711.6,354.5 L711.7,355.0 L711.9,355.6 L712.0,356.1 L712.2,356.6 L712.3,357.1 L712.5,357.6 L712.7,358.2 L712.9,358.7 L713.1,359.2 L713.3,359.8 L713.5,360.4 L713.8,361.0 L714.0,361.5 L714.3,362.0 L714.5,362.6 L714.8,363.1 L715.0,363.7 L715.3,364.3 L715.6,364.9 L715.9,365.4 L716.2,366.0 L716.5,366.6 L716.8,367.2 L717.1,367.8 L717.4,368.4 L717.7,369.0 L718.0,369.6 L718.3,370.1 L718.6,370.7 L719.0,371.2 L719.3,371.7 L719.6,372.2 L719.9,372.7 L720.2,373.2 L720.5,373.6 L720.8,374.0 L721.1,374.4 L721.6,375.0 L722.1,375.6 L722.6,376.1 L723.1,376.5 L723.6,376.9 L724.1,377.3 L724.6,377.6 L725.1,377.9 L725.6,378.2 L726.1,378.5 L726.7,378.7 L727.2,378.9 L727.7,379.2 L728.3,379.4 L728.9,379.6 L729.5,379.8 L730.1,379.9 L730.7,380.1 L731.3,380.2 L731.9,380.3 L732.5,380.3 L733.2,380.4 L733.8,380.5 L734.4,380.5 L735.1,380.6 L735.7,380.7 L736.3,380.8 L736.9,380.9 L737.5,381.0 L738.1,381.2 L738.7,381.3 L739.2,381.4 L739.8,381.5 L740.4,381.6 L740.9,381.8 L741.5,381.9 L742.1,382.1 L742.8,382.3 L743.5,382.5 L744.2,382.7 L745.0,383.0 L745.5,383.3 L745.9,383.2 L746.4,383.6 L746.8,384.0 L747.3,384.1 L747.7,384.6 L748.2,384.2 L748.7,384.7 L749.2,384.7 L749.7,385.0 L750.2,385.4 L750.7,385.7 L751.3,386.0 L751.8,386.3 L752.4,387.0 L753.0,386.9 L753.6,386.6 L754.2,387.3 L754.9,387.3 L755.6,387.6 L756.3,388.3 L757.0,388.1 L757.8,387.9 L758.6,388.7 L759.1,388.6 L759.6,388.5 L760.1,388.7 L760.6,388.9 L761.2,389.2 L761.7,389.2 L762.3,389.5 L762.9,390.1 L763.5,389.5 L764.1,389.7 L764.7,389.9 L765.3,390.4 L766.0,390.1 L766.6,390.7 L767.3,390.2 L767.9,390.4 L768.6,390.8 L769.3,390.7 L770.0,390.9 L770.6,391.3 L771.3,391.4 L772.0,391.4 L772.6,391.4 L773.3,392.0 L774.0,391.8 L774.7,391.8 L775.3,392.2 L776.0,391.8 L776.6,392.2 L777.3,392.4 L777.9,392.3 L778.5,392.2 L779.1,392.6 L779.7,392.4 L780.3,392.5 L780.9,392.4 L781.4,393.0 L782.0,392.6 L782.5,393.1 L783.0,392.9 L783.5,392.8 L784.0,393.1 L784.8,393.0 L785.6,393.0 L786.4,392.6 L787.1,393.0 L787.8,393.1 L788.4,393.0 L789.1,393.1 L789.7,393.2 L790.3,392.8 L790.8,393.1 L791.4,392.1 L791.9,392.4 L792.4,391.7 L793.0,392.3 L793.5,392.0 L794.0,392.2 L794.5,391.5 L795.0,390.9 L795.5,391.5 L796.0,390.6 L796.5,390.4 L797.1,390.4 L797.6,390.4 L798.1,389.8 L798.6,389.7 L799.0,388.8 L799.5,389.4 L800.0,388.6 L800.5,388.2 L800.9,387.9 L801.4,387.4 L801.9,386.9 L802.3,386.2 L802.8,385.9 L803.2,385.6 L803.7,385.3 L804.1,384.5 L804.6,384.1 L805.0,383.7 L805.5,383.3 L805.9,382.8 L806.3,382.2 L806.8,381.7 L807.2,381.8 L807.6,381.2 L808.0,380.7 L808.5,381.3 L808.9,380.3 L809.3,380.0 L809.9,379.4 L810.5,378.8 L811.1,379.0 L811.7,378.4 L812.3,378.1 L812.9,378.1 L813.5,377.8 L814.0,377.4 L814.6,377.1 L815.2,377.5 L815.7,377.0 L816.3,376.4 L816.8,376.8 L817.4,376.6 L818.0,376.5 L818.5,376.7 L819.1,376.6 L819.7,377.1 L820.3,376.7 L820.9,376.8 L821.4,377.2 L822.0,377.0 L822.6,377.6 L823.2,377.6 L823.8,378.2 L824.4,378.0 L825.0,378.6 L825.6,378.5 L826.2,379.1 L826.7,379.5 L827.3,380.0 L827.8,380.7 L828.4,381.0 L828.9,380.5 L829.5,380.9 L830.0,381.8 L830.6,382.0 L831.1,381.9 L831.6,382.8 L832.2,382.8 L832.7,383.3 L833.2,383.6 L833.7,384.3 L834.2,385.3 L834.7,385.2 L835.1,385.5 L835.5,386.5 L836.0,386.1 L836.3,386.4 L836.7,386.6 L837.4,387.3 L837.7,387.4 L837.9,388.0 L838.6,387.7 L840.0,388.2 L840.3,388.2 L840.7,388.0 L841.1,388.0 L841.5,388.3 L842.0,387.8 L842.4,388.4 L842.9,388.5 L843.4,388.6 L843.9,388.6 L844.5,388.7 L845.0,388.6 L845.6,388.9 L846.2,388.4 L846.7,389.1 L847.4,388.7 L848.0,389.2 L848.6,389.0 L849.2,389.1 L849.9,389.0 L850.6,389.6 L851.2,389.1 L851.9,389.2 L852.6,389.6 L853.3,389.7 L853.9,389.7 L854.6,389.5 L855.3,389.6 L856.0,390.1 L856.7,389.7 L857.4,390.2 L858.1,390.3 L858.8,390.2 L859.5,389.9 L860.2,390.7 L860.8,390.4 L861.5,390.4 L862.2,390.4 L862.8,390.3 L863.5,390.5 L864.1,390.7 L864.7,390.5 L865.4,390.8 L866.0,391.1 L866.6,390.9 L867.1,390.9 L867.7,391.2 L868.3,391.2 L868.8,391.2 L869.5,390.9 L870.2,390.6 L870.9,391.3 L871.6,391.2 L872.3,391.1 L873.0,391.4 L873.6,391.2 L874.3,391.2 L875.0,391.8 L875.7,391.0 L876.3,391.7 L877.0,391.8 L877.6,392.0 L878.3,391.6 L878.9,391.7 L879.6,391.4 L880.2,391.7 L880.8,390.5 L881.4,391.4 L882.0,391.7 L882.6,391.7 L883.2,391.5 L883.8,392.4 L884.4,390.9 L885.0,391.8 L885.5,391.6 L886.1,391.8 L886.6,391.8 L887.1,392.8 L887.6,391.2 L888.1,392.5 L888.6,392.5 L889.1,391.7 L889.6,391.4 L890.1,391.0 L890.5,391.2 L891.4,392.8 L892.2,390.4 L893.0,391.8 L893.7,391.0 L894.4,392.3 L895.0,391.4 L895.6,390.3 L896.1,390.7 L896.6,390.9 L897.1,390.7 L897.6,390.0 L898.1,390.2 L898.6,389.9 L899.1,390.3 L899.6,390.0 L900.1,389.8 L900.6,389.2 L901.2,389.7 L901.8,388.8 L902.5,388.4 L903.1,388.3 L903.7,388.1 L904.3,387.8 L904.9,386.6 L905.5,388.1 L906.0,387.5 L906.6,387.6 L907.1,386.4 L907.7,386.8 L908.2,386.3 L908.7,386.0 L909.2,386.9 L910.0,385.5 L910.7,386.1 L911.3,384.9 L911.9,386.3 L912.5,386.1 L913.1,385.8 L913.7,386.1 L914.3,385.3 L915.0,385.8 L915.6,386.4 L916.2,384.7 L916.9,386.5 L917.6,386.2 L918.3,385.0 L919.0,384.3 L919.6,384.1 L920.3,383.9 L920.9,383.9 L921.4,385.3 L921.8,383.3 L922.2,384.2" fill="none" stroke="#ff0000" stroke-width="3.0" stroke-linejoin="round" stroke-linecap="round"/>
<path d="M510.8,327.5 L511.1,327.5 L511.5,327.5 L511.8,327.5 L512.2,327.5 L512.6,327.5 L513.1,327.5 L513.5,327.5 L514.0,327.5 L514.5,327.4 L515.0,327.4 L515.5,327.4 L516.1,327.4 L516.7,327.4 L517.2,327.4 L517.8,327.4 L518.5,327.4 L519.1,327.4 L519.7,327.4 L520.4,327.4 L521.0,327.3 L521.7,327.3 L522.4,327.3 L523.1,327.3 L523.8,327.3 L524.5,327.3 L525.2,327.3 L525.9,327.3 L526.6,327.3 L527.4,327.3 L528.1,327.2 L528.8,327.2 L529.6,327.2 L530.3,327.2 L531.0,327.2 L531.8,327.2 L532.5,327.2 L533.2,327.2 L533.9,327.2 L534.7,327.1 L535.4,327.1 L536.1,327.1 L536.8,327.1 L537.5,327.1 L538.2,327.1 L538.9,327.1 L539.5,327.1 L540.2,327.1 L540.8,327.0 L541.5,327.0 L542.1,327.0 L542.7,327.0 L543.3,327.0 L543.9,327.0 L544.5,327.0 L545.0,327.0 L545.5,327.0 L546.0,326.9 L546.5,326.9 L547.0,326.9 L547.5,326.9 L547.9,326.9 L548.3,326.9 L549.5,326.9 L550.6,326.8 L551.6,326.8 L552.5,326.8 L553.2,326.8 L553.9,326.8 L554.5,326.8 L555.1,326.7 L555.6,326.7 L556.0,326.7 L556.5,326.7 L556.9,326.7 L557.3,326.6 L557.7,326.6 L558.1,326.6 L558.5,326.5 L558.9,326.5 L559.4,326.5 L560.0,326.4 L560.6,326.3 L561.2,326.3 L561.9,326.2 L562.5,326.1 L563.1,326.1 L563.7,326.0 L564.3,325.9 L564.9,325.9 L565.5,325.8 L566.1,325.7 L566.7,325.6 L567.3,325.5 L567.8,325.4 L568.4,325.3 L569.0,325.2 L569.6,325.1 L570.1,324.9 L570.7,324.8 L571.3,324.6 L572.0,324.5 L572.6,324.3 L573.3,324.1 L573.9,324.0 L574.6,323.8 L575.2,323.6 L575.8,323.4 L576.5,323.2 L577.1,323.0 L577.7,322.7 L578.2,322.5 L578.8,322.3 L579.3,322.1 L579.8,321.8 L580.3,321.6 L580.9,321.3 L581.5,320.9 L582.1,320.5 L582.6,320.2 L583.1,319.8 L583.5,319.4 L583.9,319.0 L584.3,318.6 L584.8,318.2 L585.2,317.8 L585.6,317.3 L586.0,316.9 L586.4,316.4 L586.7,316.0 L587.1,315.6 L587.5,315.1 L587.8,314.6 L588.2,314.1 L588.5,313.7 L588.9,313.1 L589.2,312.6 L589.5,312.1 L589.9,311.5 L590.2,311.0 L590.5,310.5 L590.8,310.0 L591.1,309.4 L591.3,308.9 L591.6,308.3 L591.9,307.7 L592.2,307.1 L592.5,306.6 L592.8,306.0 L593.1,305.4 L593.3,304.9 L593.6,304.4 L593.8,303.9 L594.1,303.5 L594.5,302.8 L594.9,302.2 L595.2,301.6 L595.6,301.0 L595.9,300.5 L596.3,300.1 L596.6,299.6 L597.0,299.2 L597.3,298.9 L597.9,298.4 L598.5,298.0 L599.1,297.7 L599.7,297.6 L600.3,297.6 L600.8,297.7 L601.4,298.0 L601.9,298.3 L602.5,298.7 L603.1,299.2 L603.7,299.7 L604.1,300.1 L604.6,300.5 L605.0,300.9 L605.5,301.4 L606.0,301.9 L606.5,302.3 L607.0,302.8 L607.5,303.2 L608.0,303.5 L608.6,303.8 L609.2,304.1 L609.8,304.4 L610.4,304.6 L611.0,304.8 L611.6,305.0 L612.2,305.1 L612.8,305.1 L613.4,305.1 L614.0,305.0 L614.5,304.9 L615.1,304.7 L615.7,304.5 L616.3,304.2 L616.9,303.9 L617.6,303.5 L618.0,303.2 L618.5,302.9 L619.0,302.6 L619.5,302.3 L620.0,301.9 L620.5,301.6 L621.0,301.2 L621.5,300.8 L622.0,300.3 L622.5,299.9 L623.0,299.5 L623.5,299.1 L624.0,298.7 L624.5,298.3 L624.9,297.9 L625.4,297.5 L625.9,297.0 L626.3,296.6 L626.8,296.2 L627.3,295.7 L627.7,295.3 L628.2,294.8 L628.6,294.4 L629.1,293.9 L629.5,293.5 L630.0,293.0 L630.4,292.6 L630.9,292.1 L631.3,291.7 L631.7,291.3 L632.1,290.8 L632.6,290.4 L633.0,289.9 L633.4,289.5 L633.9,289.0 L634.3,288.5 L634.7,288.0 L635.1,287.5 L635.6,287.0 L636.0,286.4 L636.3,285.9 L636.7,285.5 L637.0,285.0 L637.4,284.5 L637.7,284.0 L638.1,283.5 L638.4,282.9 L638.8,282.4 L639.1,281.9 L639.5,281.3 L639.8,280.8 L640.1,280.2 L640.5,279.6 L640.8,279.1 L641.1,278.5 L641.4,277.9 L641.7,277.4 L642.0,276.8 L642.3,276.3 L642.5,275.7 L642.8,275.2 L643.0,274.6 L643.2,274.1 L643.5,273.5 L643.7,273.0 L643.9,272.4 L644.1,271.8 L644.4,271.3 L644.6,270.7 L644.8,270.1 L645.0,269.5 L645.2,269.0 L645.4,268.4 L645.6,267.8 L645.8,267.2 L646.0,266.6 L646.2,266.0 L646.4,265.4 L646.6,264.8 L646.8,264.3 L647.0,263.7 L647.2,263.1 L647.3,262.5 L647.5,261.9 L647.7,261.3 L647.9,260.7 L648.1,260.1 L648.3,259.5 L648.4,258.9 L648.6,258.2 L648.8,257.6 L649.0,257.0 L649.1,256.4 L649.3,255.8 L649.5,255.2 L649.6,254.6 L649.8,254.0 L650.0,253.4 L650.1,252.8 L650.3,252.2 L650.4,251.6 L650.6,251.0 L650.8,250.4 L650.9,249.8 L651.1,249.2 L651.2,248.7 L651.4,248.1 L651.5,247.5 L651.7,246.9 L651.8,246.3 L651.9,245.7 L652.1,245.1 L652.2,244.5 L652.4,243.9 L652.5,243.2 L652.7,242.6 L652.8,242.0 L652.9,241.4 L653.1,240.9 L653.2,240.3 L653.3,239.8 L653.4,239.2 L653.5,238.6 L653.7,238.1 L653.8,237.5 L653.9,237.0 L654.0,236.4 L654.1,235.8 L654.2,235.2 L654.4,234.7 L654.5,234.1 L654.6,233.5 L654.7,232.9 L654.8,232.2 L654.9,231.6 L655.0,231.0 L655.2,230.3 L655.3,229.7 L655.4,229.0 L655.5,228.5 L655.6,227.9 L655.7,227.4 L655.8,226.8 L655.9,226.3 L655.9,225.7 L656.0,225.1 L656.1,224.6 L656.2,224.0 L656.3,223.4 L656.4,222.8 L656.5,222.2 L656.6,221.6 L656.7,221.0 L656.8,220.4 L656.8,219.8 L656.9,219.2 L657.0,218.6 L657.1,217.9 L657.2,217.3 L657.3,216.6 L657.4,216.0 L657.5,215.3 L657.6,214.7 L657.7,214.0 L657.8,213.4 L657.9,212.7 L658.0,212.0 L658.1,211.4 L658.2,210.9 L658.3,210.3 L658.3,209.8 L658.4,209.2 L658.5,208.6 L658.6,208.0 L658.7,207.4 L658.8,206.8 L658.9,206.2 L658.9,205.6 L659.0,205.0 L659.1,204.4 L659.2,203.8 L659.3,203.1 L659.4,202.5 L659.5,201.9 L659.6,201.3 L659.7,200.6 L659.8,200.0 L659.9,199.4 L659.9,198.7 L660.0,198.1 L660.1,197.5 L660.2,196.9 L660.3,196.2 L660.4,195.6 L660.5,195.0 L660.6,194.4 L660.7,193.7 L660.8,193.1 L660.9,192.5 L661.0,191.9 L661.1,191.3 L661.2,190.7 L661.3,190.1 L661.4,189.5 L661.5,188.8 L661.6,188.2 L661.7,187.6 L661.8,187.0 L661.9,186.4 L662.0,185.8 L662.1,185.1 L662.2,184.5 L662.3,183.9 L662.4,183.3 L662.5,182.7 L662.6,182.1 L662.7,181.5 L662.8,180.8 L663.0,180.2 L663.1,179.6 L663.2,179.0 L663.3,178.4 L663.4,177.8 L663.5,177.2 L663.6,176.6 L663.7,176.0 L663.8,175.4 L664.0,174.8 L664.1,174.2 L664.2,173.6 L664.3,173.0 L664.4,172.4 L664.5,171.8 L664.7,171.3 L664.8,170.7 L664.9,170.1 L665.0,169.5 L665.2,168.8 L665.3,168.2 L665.5,167.5 L665.6,166.9 L665.8,166.2 L665.9,165.5 L666.1,164.9 L666.2,164.2 L666.4,163.6 L666.5,162.9 L666.7,162.2 L666.9,161.6 L667.0,160.9 L667.2,160.3 L667.3,159.7 L667.5,159.0 L667.6,158.4 L667.8,157.8 L668.0,157.2 L668.1,156.6 L668.3,156.0 L668.4,155.5 L668.6,154.9 L668.7,154.4 L668.9,153.8 L669.0,153.3 L669.2,152.9 L669.3,152.4 L669.5,151.9 L669.6,151.5 L669.9,150.5 L670.2,149.7 L670.5,148.9 L670.8,148.2 L671.1,147.6 L671.4,147.0 L671.7,146.5 L672.0,146.0 L672.3,145.5 L672.5,145.1 L672.8,144.7 L673.0,144.4 L673.3,144.0 L673.9,143.2 L674.5,142.6 L675.0,142.3 L675.6,142.1 L676.1,142.1 L676.6,142.2 L677.0,142.5 L677.5,142.9 L678.0,143.4 L678.4,144.1 L678.9,144.9 L679.1,145.3 L679.3,145.7 L679.5,146.1 L679.7,146.6 L679.9,147.1 L680.0,147.6 L680.2,148.1 L680.4,148.7 L680.6,149.3 L680.8,150.0 L681.0,150.7 L681.2,151.5 L681.5,152.4 L681.7,153.3 L681.8,153.7 L681.9,154.2 L682.0,154.7 L682.1,155.2 L682.3,155.7 L682.4,156.2 L682.5,156.8 L682.6,157.3 L682.7,157.9 L682.9,158.5 L683.0,159.1 L683.1,159.7 L683.2,160.3 L683.4,160.9 L683.5,161.5 L683.6,162.1 L683.7,162.8 L683.9,163.4 L684.0,164.1 L684.1,164.7 L684.2,165.4 L684.4,166.1 L684.5,166.7 L684.6,167.4 L684.8,168.0 L684.9,168.7 L685.0,169.4 L685.1,170.0 L685.3,170.7 L685.4,171.3 L685.5,172.0 L685.6,172.6 L685.7,173.1 L685.8,173.7 L685.9,174.3 L686.0,174.9 L686.1,175.4 L686.2,176.0 L686.3,176.6 L686.5,177.2 L686.6,177.8 L686.7,178.4 L686.8,179.0 L686.9,179.6 L687.0,180.3 L687.1,180.9 L687.2,181.5 L687.3,182.1 L687.4,182.7 L687.5,183.3 L687.6,183.9 L687.7,184.5 L687.8,185.2 L687.9,185.8 L688.0,186.4 L688.1,187.0 L688.2,187.6 L688.3,188.2 L688.4,188.8 L688.5,189.4 L688.6,190.0 L688.7,190.6 L688.8,191.2 L688.9,191.8 L689.0,192.4 L689.1,192.9 L689.2,193.5 L689.3,194.1 L689.4,194.8 L689.5,195.4 L689.6,196.1 L689.7,196.7 L689.8,197.3 L689.9,197.9 L690.0,198.6 L690.1,199.2 L690.2,199.8 L690.3,200.4 L690.4,201.1 L690.5,201.7 L690.6,202.3 L690.7,202.9 L690.8,203.5 L690.8,204.1 L690.9,204.7 L691.0,205.4 L691.1,206.0 L691.2,206.6 L691.3,207.2 L691.4,207.8 L691.5,208.3 L691.5,208.9 L691.6,209.5 L691.7,210.1 L691.8,210.7 L691.9,211.3 L691.9,211.9 L692.0,212.4 L692.1,213.0 L692.2,213.7 L692.3,214.3 L692.4,215.0 L692.4,215.6 L692.5,216.3 L692.6,216.9 L692.7,217.5 L692.7,218.2 L692.8,218.8 L692.9,219.5 L693.0,220.1 L693.0,220.7 L693.1,221.3 L693.2,222.0 L693.3,222.6 L693.3,223.2 L693.4,223.8 L693.5,224.4 L693.5,225.0 L693.6,225.6 L693.7,226.2 L693.7,226.7 L693.8,227.3 L693.9,227.9 L694.0,228.4 L694.0,228.9 L694.1,229.5 L694.2,230.0 L694.3,230.7 L694.4,231.4 L694.5,232.1 L694.7,232.7 L694.8,233.4 L694.9,234.0 L695.0,234.6 L695.1,235.2 L695.2,235.7 L695.3,236.3 L695.5,236.9 L695.6,237.4 L695.7,238.0 L695.8,238.6 L696.0,239.1 L696.1,239.7 L696.2,240.2 L696.3,240.8 L696.5,241.4 L696.6,242.0 L696.7,242.6 L696.9,243.2 L697.0,243.8 L697.2,244.4 L697.3,245.0 L697.5,245.6 L697.6,246.2 L697.8,246.8 L697.9,247.4 L698.1,248.0 L698.2,248.6 L698.4,249.2 L698.5,249.8 L698.7,250.4 L698.8,251.0 L699.0,251.6 L699.1,252.2 L699.3,252.8 L699.4,253.4 L699.6,254.0 L699.7,254.6 L699.9,255.2 L700.0,255.8 L700.2,256.4 L700.3,257.0 L700.5,257.6 L700.6,258.2 L700.8,258.9 L700.9,259.5 L701.1,260.1 L701.2,260.7 L701.4,261.3 L701.5,261.9 L701.7,262.5 L701.8,263.1 L702.0,263.7 L702.1,264.3 L702.3,264.8 L702.4,265.4 L702.6,266.0 L702.8,266.6 L703.0,267.3 L703.2,267.9 L703.3,268.5 L703.5,269.1 L703.7,269.7 L703.9,270.3 L704.1,270.9 L704.3,271.6 L704.5,272.1 L704.7,272.7 L704.9,273.3 L705.1,273.9 L705.3,274.5 L705.5,275.1 L705.7,275.7 L706.0,276.2 L706.2,276.8 L706.4,277.4 L706.7,278.0 L707.0,278.5 L707.2,279.1 L707.5,279.7 L707.8,280.2 L708.0,280.8 L708.3,281.3 L708.6,281.9 L708.9,282.4 L709.2,282.9 L709.5,283.5 L709.8,284.1 L710.1,284.6 L710.4,285.2 L710.7,285.8 L711.0,286.4 L711.3,286.9 L711.5,287.4 L711.8,288.0 L712.1,288.5 L712.4,289.1 L712.7,289.6 L712.9,290.2 L713.2,290.8 L713.5,291.3 L713.8,291.9 L714.1,292.5 L714.4,293.0 L714.7,293.6 L715.0,294.1 L715.3,294.7 L715.6,295.2 L715.9,295.7 L716.2,296.2 L716.5,296.6 L716.7,297.1 L717.0,297.5 L717.4,298.2 L717.9,298.8 L718.3,299.4 L718.7,299.9 L719.1,300.4 L719.5,300.9 L719.9,301.3 L720.3,301.7 L720.7,302.1 L721.1,302.5 L721.5,302.8 L722.0,303.2 L722.5,303.6 L723.0,303.9 L723.6,304.2 L724.1,304.5 L724.6,304.8 L725.2,305.1 L725.8,305.3 L726.4,305.5 L727.0,305.8 L727.6,306.0 L728.3,306.2 L728.8,306.4 L729.4,306.5 L730.0,306.6 L730.6,306.7 L731.2,306.8 L731.9,306.9 L732.5,307.0 L733.1,307.1 L733.8,307.2 L734.4,307.3 L735.0,307.4 L735.7,307.6 L736.3,307.8 L736.9,308.0 L737.4,308.2 L738.0,308.5 L738.5,308.8 L739.0,309.1 L739.4,309.5 L739.9,309.8 L740.4,310.2 L740.9,310.5 L741.4,310.9 L741.9,311.3 L742.5,311.6 L743.0,312.0 L743.6,312.4 L744.3,312.8 L745.0,312.8 L745.5,313.0 L745.9,313.7 L746.4,313.2 L746.8,313.9 L747.3,313.6 L747.8,314.7 L748.3,314.7 L748.8,315.2 L749.3,315.0 L749.8,315.4 L750.3,315.5 L750.8,315.6 L751.4,316.0 L752.0,315.9 L752.5,316.3 L753.1,316.8 L753.8,316.9 L754.4,317.0 L755.0,317.8 L755.7,317.5 L756.4,317.5 L757.1,317.9 L757.8,318.0 L758.6,318.2 L759.1,318.3 L759.6,319.1 L760.1,318.7 L760.6,318.9 L761.2,319.1 L761.7,319.6 L762.3,319.2 L762.9,319.2 L763.5,320.1 L764.1,319.3 L764.7,319.7 L765.3,320.1 L766.0,320.6 L766.6,319.9 L767.2,319.7 L767.9,320.6 L768.5,320.5 L769.2,320.6 L769.8,321.0 L770.5,321.0 L771.2,321.2 L771.8,321.1 L772.5,321.7 L773.1,321.8 L773.8,321.6 L774.4,321.6 L775.1,322.0 L775.7,322.0 L776.3,321.7 L776.9,322.0 L777.5,322.4 L778.1,322.2 L778.7,322.2 L779.3,322.4 L779.9,322.4 L780.4,322.5 L781.0,322.1 L781.5,323.0 L782.0,322.6 L782.7,322.4 L783.5,322.9 L784.2,322.8 L784.9,322.7 L785.5,323.0 L786.2,323.3 L786.9,322.8 L787.5,323.1 L788.1,323.2 L788.7,322.4 L789.4,322.4 L789.9,322.7 L790.5,322.0 L791.1,322.3 L791.7,322.6 L792.2,322.4 L792.8,322.2 L793.3,321.4 L793.9,322.4 L794.4,321.7 L795.0,321.6 L795.5,321.4 L796.0,320.6 L796.5,320.4 L797.1,320.3 L797.6,320.8 L798.1,319.8 L798.6,319.7 L799.1,319.3 L799.6,319.1 L800.0,318.7 L800.5,318.3 L801.0,317.4 L801.4,316.5 L801.9,316.9 L802.3,316.4 L802.7,316.1 L803.2,315.3 L803.6,314.7 L804.0,314.4 L804.4,313.4 L804.9,313.0 L805.3,312.5 L805.7,312.4 L806.1,312.3 L806.5,311.5 L806.9,311.2 L807.3,310.5 L807.7,310.1 L808.1,309.5 L808.5,309.2 L808.9,308.3 L809.3,308.3 L809.9,307.8 L810.5,307.9 L811.1,307.5 L811.7,307.2 L812.3,307.0 L812.9,306.2 L813.5,306.2 L814.0,306.1 L814.6,305.4 L815.2,305.4 L815.7,304.9 L816.3,304.4 L816.8,304.7 L817.4,304.3 L818.0,304.4 L818.5,304.2 L819.1,304.4 L819.7,303.8 L820.3,304.8 L820.9,304.7 L821.4,304.3 L822.0,304.3 L822.6,304.6 L823.2,305.0 L823.8,305.1 L824.4,305.3 L825.0,304.9 L825.6,305.4 L826.2,306.3 L826.7,306.3 L827.3,306.2 L827.8,306.7 L828.4,306.9 L828.9,307.3 L829.3,308.2 L829.8,308.3 L830.2,309.1 L830.7,309.3 L831.1,309.4 L831.5,310.1 L832.0,311.4 L832.4,311.2 L832.8,311.7 L833.2,312.9 L833.6,313.2 L834.0,313.7 L834.4,314.6 L834.8,314.4 L835.1,315.4 L835.5,315.6 L835.8,315.9 L836.1,316.5 L836.4,317.4 L836.7,317.4 L837.4,317.7 L837.6,318.4 L837.8,319.3 L838.1,319.3 L838.7,319.0 L840.0,320.2 L840.4,319.6 L840.7,319.4 L841.2,319.8 L841.6,320.1 L842.1,320.4 L842.6,320.3 L843.1,320.0 L843.6,320.1 L844.2,319.9 L844.8,320.4 L845.4,320.3 L846.0,320.6 L846.7,320.3 L847.3,320.6 L848.0,320.6 L848.6,320.6 L849.3,320.7 L850.0,320.9 L850.7,320.9 L851.4,321.5 L852.1,321.4 L852.8,321.2 L853.6,321.7 L854.3,321.8 L855.0,322.2 L855.7,321.8 L856.4,321.9 L857.1,321.9 L857.8,322.2 L858.5,322.3 L859.2,322.3 L859.8,322.3 L860.5,322.6 L861.1,322.5 L861.7,322.6 L862.3,322.4 L862.9,322.7 L863.5,322.5 L864.0,322.5 L864.6,322.8 L865.1,323.4 L865.6,323.1 L866.0,322.9 L866.9,322.9 L867.8,323.2 L868.6,323.3 L869.4,323.2 L870.1,322.8 L870.8,322.8 L871.4,322.6 L871.9,322.5 L872.5,322.2 L873.0,322.2 L873.5,321.6 L874.0,321.8 L874.5,322.1 L874.9,321.7 L875.4,321.9 L875.9,321.4 L876.4,321.6 L876.9,321.8 L877.5,321.4 L878.1,321.6 L878.7,322.5 L879.3,321.8 L879.9,321.9 L880.5,321.9 L881.1,322.4 L881.7,322.5 L882.3,323.3 L882.8,323.3 L883.4,322.9 L884.0,323.1 L884.6,322.6 L885.2,322.7 L885.8,323.3 L886.4,324.2 L887.0,323.9 L887.6,324.4 L888.2,324.4 L888.8,323.8 L889.4,325.1 L890.1,323.6 L890.7,323.5 L891.4,323.6 L892.0,324.4 L892.7,323.6 L893.4,323.2 L894.0,323.8 L894.7,324.1 L895.3,323.3 L895.9,323.1 L896.5,323.8 L897.1,323.6 L897.7,323.5 L898.2,322.4 L898.7,322.8 L899.1,322.7 L899.8,321.2 L900.4,322.5 L900.9,321.4 L901.4,320.7 L901.8,321.6 L902.1,319.9 L902.4,318.9 L902.7,318.8 L903.1,318.8 L903.5,318.6 L904.1,317.6 L904.8,316.7 L905.4,316.3 L906.0,315.9 L906.6,315.5 L907.2,316.0 L907.8,315.7 L908.3,316.2 L908.8,316.2 L909.2,316.7 L909.7,317.7 L910.1,318.2 L910.6,319.6 L911.0,318.9 L911.4,319.7 L911.9,319.5 L912.4,318.3 L912.9,318.9 L913.4,318.0 L913.8,316.3 L914.3,317.7 L914.7,318.2 L915.2,317.9 L915.6,320.0 L916.0,319.9 L916.4,319.9 L916.8,321.3 L917.2,320.8 L917.4,320.0 L917.6,319.2 L917.8,320.0 L918.0,318.8 L918.2,318.8 L918.3,317.9 L918.5,316.6 L918.7,315.9 L918.9,316.5 L919.1,315.9 L919.3,314.9 L919.9,313.7 L920.5,313.0 L921.2,313.1 L921.8,314.1 L922.2,313.4" fill="none" stroke="#0000ff" stroke-width="3.0" stroke-linejoin="round" stroke-linecap="round"/>
<rect x="1027.7" y="5.1" width="412.5999999999999" height="483.7" fill="none" stroke="#000" stroke-width="1.7"/>
<line x1="1027.7" y1="488.8" x2="1027.7" y2="498.1" stroke="#000" stroke-width="1.7"/>
<text x="1002.9" y="527.8" font-size="29.5" fill="#000" stroke="#000" text-anchor="start">200</text>
<line x1="1130.8" y1="488.8" x2="1130.8" y2="498.1" stroke="#000" stroke-width="1.7"/>
<text x="1106.3" y="527.8" font-size="29.5" fill="#000" stroke="#000" text-anchor="start">300</text>
<line x1="1234" y1="488.8" x2="1234" y2="498.1" stroke="#000" stroke-width="1.7"/>
<text x="1209.6" y="527.8" font-size="29.5" fill="#000" stroke="#000" text-anchor="start">400</text>
<line x1="1337.2" y1="488.8" x2="1337.2" y2="498.1" stroke="#000" stroke-width="1.7"/>
<text x="1312.5" y="527.8" font-size="29.5" fill="#000" stroke="#000" text-anchor="start">500</text>
<line x1="1440.3" y1="488.8" x2="1440.3" y2="498.1" stroke="#000" stroke-width="1.7"/>
<text x="1415.5" y="527.8" font-size="29.5" fill="#000" stroke="#000" text-anchor="start">600</text>
<text x="1122.5" y="563.8" font-size="29.5" fill="#000" stroke="#000" text-anchor="start">Wavelength (nm)</text>
<text transform="translate(1007.9,248.39) rotate(-90)" font-size="29.5" text-anchor="middle" fill="#000" stroke="#000">Absorbance (a.u.)</text>
<text x="986.7" y="25.3" font-size="32" fill="#000" stroke="#000" text-anchor="start" font-weight="bold">d</text>
<text x="1117.3" y="39.6" font-size="29.5" fill="#000" stroke="#000">Ta<tspan font-size="19" dy="7.5">2</tspan><tspan dy="-7.5">O</tspan><tspan font-size="19" dy="7.5">5</tspan></text>
<line x1="1043" y1="29.3" x2="1109" y2="29.3" stroke="#ff00ff" stroke-width="3"/>
<line x1="1043" y1="72.4" x2="1109" y2="72.4" stroke="#0000ff" stroke-width="3"/>
<line x1="1043" y1="108.7" x2="1109" y2="108.7" stroke="#ff0000" stroke-width="3"/>
<line x1="1043" y1="144" x2="1109" y2="144" stroke="#000" stroke-width="3"/>
<text x="1117.3" y="82.7" font-size="29.5" fill="#000" stroke="#000" text-anchor="start">TaS-1(0.013/1)</text>
<text x="1117.3" y="118.7" font-size="29.5" fill="#000" stroke="#000" text-anchor="start">TaAlS-1(0.013/0.027/1)</text>
<text x="1117.3" y="155.3" font-size="29.5" fill="#000" stroke="#000" text-anchor="start">HZSM-5(0.027/1)</text>
<path d="M1028.4,468.9 C1029.8,468.6 1033.5,468.2 1036.8,466.9 C1040.1,465.6 1043.8,463 1048,461.3 C1052.2,459.6 1057.3,457.2 1062,456.5 C1066.7,455.8 1070.8,456.6 1076,457.1 C1081.2,457.6 1087.3,458.1 1092.9,459.3 C1098.5,460.5 1103.2,462.4 1109.7,464.1 C1116.2,465.8 1123.7,468.1 1132.1,469.7 C1140.5,471.3 1150.8,472.9 1160.1,473.9 C1169.4,474.9 1174.9,475.6 1188.2,475.9 C1201.5,476.2 1198,475.8 1240,475.9 C1282,476 1406.7,476.4 1440,476.5" fill="none" stroke="#000" stroke-width="3.0" stroke-linejoin="round" stroke-linecap="round"/>
<path d="M1028.4,409.4 C1030.3,408 1035.9,403 1039.6,401 C1043.2,399 1047,397.4 1050.3,397.4 C1053.6,397.4 1055.8,398.5 1059.2,401 C1062.6,403.5 1066.2,407.3 1070.4,412.2 C1074.6,417.1 1079.8,425.1 1084.5,430.5 C1089.2,435.9 1093.4,441 1098.5,444.5 C1103.6,448 1107.4,450.1 1115.3,451.5 C1123.2,452.9 1133.9,452.5 1146.1,452.9 C1158.2,453.3 1172.5,453.8 1188.2,453.7 C1203.9,453.6 1214.7,452.7 1240,452.3 C1265.3,451.9 1306.7,451.8 1340,451.5 C1373.3,451.2 1423.3,450.7 1440,450.5" fill="none" stroke="#ff0000" stroke-width="3.0" stroke-linejoin="round" stroke-linecap="round"/>
<path d="M1028.4,380 C1030.7,377.9 1037.6,370.8 1042.4,367.4 C1047.2,364 1053.3,360.3 1057.3,359.6 C1061.3,358.9 1063.1,360.5 1066.2,363.2 C1069.3,365.9 1072.5,370.4 1076,375.8 C1079.5,381.2 1083.5,389.8 1087.3,395.4 C1091,401 1094.3,405.7 1098.5,409.4 C1102.7,413.1 1106.9,415.9 1112.5,417.8 C1118.1,419.7 1124.2,420.1 1132.1,420.6 C1140,421.1 1142.1,420.7 1160.1,420.6 C1178.1,420.5 1193.3,420.3 1240,420.1 C1286.7,419.9 1406.7,419.7 1440,419.6" fill="none" stroke="#0000ff" stroke-width="3.0" stroke-linejoin="round" stroke-linecap="round"/>
<path d="M1028.4,218.9 C1029.8,218.2 1033.5,216.8 1036.8,214.7 C1040.1,212.6 1044.3,209 1048,206.2 C1051.7,203.4 1054.5,200.6 1059.2,197.8 C1063.9,195 1070.9,191.6 1076,189.4 C1081.1,187.2 1086.5,185.1 1090,184.4 C1093.5,183.7 1094.8,183.7 1097.1,185.2 C1099.4,186.7 1101.5,188.9 1104.1,193.6 C1106.7,198.3 1109.7,206.3 1112.5,213.3 C1115.3,220.3 1118.3,227.8 1120.9,235.7 C1123.5,243.6 1125.8,252.5 1127.9,260.9 C1130,269.3 1131.6,277.2 1133.5,286.1 C1135.4,295 1137.2,305.2 1139.1,314.1 C1141,323 1142.8,331.9 1144.7,339.4 C1146.6,346.9 1148.2,353.4 1150.3,359 C1152.4,364.6 1154.3,369.7 1157.3,373 C1160.3,376.3 1163.3,377.3 1168.5,378.6 C1173.7,379.9 1180.2,380.2 1188.2,380.8 C1196.2,381.4 1207.6,381.8 1216.2,382 C1224.8,382.2 1226,382.1 1240,382.3 C1254,382.5 1266.7,382.8 1300,383 C1333.3,383.2 1416.7,383.5 1440,383.6" fill="none" stroke="#ff00ff" stroke-width="3.0" stroke-linejoin="round" stroke-linecap="round"/>
<rect x="40.6" y="625.1" width="640.4" height="471.69999999999993" fill="none" stroke="#000" stroke-width="1.7"/>
<line x1="40.6" y1="1096.8" x2="40.6" y2="1105.5" stroke="#000" stroke-width="1.7"/>
<text x="16.6" y="1135.3" font-size="28.8" fill="#000" stroke="#000" text-anchor="start">320</text>
<line x1="147.3" y1="1096.8" x2="147.3" y2="1105.5" stroke="#000" stroke-width="1.7"/>
<text x="123.4" y="1135.3" font-size="28.8" fill="#000" stroke="#000" text-anchor="start">325</text>
<line x1="254.1" y1="1096.8" x2="254.1" y2="1105.5" stroke="#000" stroke-width="1.7"/>
<text x="230.1" y="1135.3" font-size="28.8" fill="#000" stroke="#000" text-anchor="start">330</text>
<line x1="360.8" y1="1096.8" x2="360.8" y2="1105.5" stroke="#000" stroke-width="1.7"/>
<text x="336.8" y="1135.3" font-size="28.8" fill="#000" stroke="#000" text-anchor="start">335</text>
<line x1="467.5" y1="1096.8" x2="467.5" y2="1105.5" stroke="#000" stroke-width="1.7"/>
<text x="443.5" y="1135.3" font-size="28.8" fill="#000" stroke="#000" text-anchor="start">340</text>
<line x1="574.3" y1="1096.8" x2="574.3" y2="1105.5" stroke="#000" stroke-width="1.7"/>
<text x="550.3" y="1135.3" font-size="28.8" fill="#000" stroke="#000" text-anchor="start">345</text>
<line x1="681" y1="1096.8" x2="681" y2="1105.5" stroke="#000" stroke-width="1.7"/>
<text x="657" y="1135.3" font-size="28.8" fill="#000" stroke="#000" text-anchor="start">350</text>
<text x="237.3" y="1171" font-size="28.8" fill="#000" stroke="#000" text-anchor="start">Magnetic field (mT)</text>
<text transform="translate(20.9,859.66) rotate(-90)" font-size="28.8" text-anchor="middle" fill="#000" stroke="#000">Intensity (a.u.)</text>
<text x="0.6" y="642.6" font-size="32" fill="#000" stroke="#000" text-anchor="start" font-weight="bold">e</text>
<text x="536.2" y="687.1" font-size="28.8" fill="#000" stroke="#000" text-anchor="start">Silicalite-1</text>
<text x="474.1" y="758.8" font-size="28.8" fill="#000" stroke="#000" text-anchor="start">TaS-1(0.013/1)</text>
<text x="291.5" y="837" font-size="28.8" fill="#000" stroke="#000" text-anchor="start">TaAlS-1(0.013/0.027/1) 7mW</text>
<text x="275.5" y="940" font-size="28.8" fill="#000" stroke="#000" text-anchor="start">TaAlS-1(0.013/0.027/1) 70mW</text>
<text x="445.3" y="1024.1" font-size="28.8" fill="#000" stroke="#000" text-anchor="start">HZSM-5(0.027/1)</text>
<path d="M41,693.3 C70.8,693.3 179.1,693.4 220,693.3 C260.9,693.1 273.4,692.7 286.7,692.4 C300,692.1 296.7,692 300,691.3 C303.3,690.6 304.5,689.8 306.7,688 C308.9,686.2 311.3,682.2 313.3,680.4 C315.3,678.6 317.1,677.5 318.7,677.1 C320.3,676.7 321.1,677.2 322.7,677.7 C324.2,678.2 325.8,680.1 328,680.4 C330.2,680.7 333.8,679.3 336,679.6 C338.2,679.9 339.5,680.8 341.3,682 C343.1,683.2 344.9,686.2 346.7,687.1 C348.5,688 350.4,687.1 352,687.6 C353.6,688.1 354.4,688 356,690 C357.6,692 359.8,696.8 361.3,699.3 C362.9,701.8 364,702 365.3,704.7 C366.6,707.4 368,710.2 369.3,715.3 C370.6,720.4 372.2,731.7 373.3,735.3 C374.4,738.9 375,738 376,736.7 C377,735.4 378,732.4 379.3,727.3 C380.6,722.2 382.3,710.9 384,706 C385.7,701.1 387.1,699.9 389.3,698 C391.5,696.1 392.2,695.5 397.3,694.7 C402.4,693.9 397.3,693.5 420,693.3 C467.3,693.1 637.5,693.3 681,693.3" fill="none" stroke="#ff00ff" stroke-width="3.0" stroke-linejoin="round" stroke-linecap="round"/>
<path d="M41,773.8 C69.7,773.8 178.8,773.7 213.3,773.5 C247.8,773.3 239.3,773 248,772.6 C256.7,772.2 260.4,771.9 265.3,771.2 C270.2,770.5 274.6,768.8 277.5,768.6 C280.4,768.5 280.7,769.3 282.7,770.3 C284.7,771.3 287.2,774.4 289.6,774.7 C292,775 294.5,773.7 297.3,772 C300.1,770.3 304.2,768.2 306.7,764.7 C309.1,761.2 310.7,754.4 312,751.3 C313.3,748.2 313.6,745.8 314.7,746 C315.8,746.2 317.4,748.7 318.7,752.7 C320,756.7 321.4,765.1 322.7,770 C324,774.9 325.1,781.3 326.7,782 C328.2,782.7 330.2,776.3 332,774 C333.8,771.7 335.3,768.7 337.3,768 C339.3,767.3 342,769.3 344,770 C346,770.7 347.5,772.7 349.3,772.4 C351.1,772.1 353.1,769.3 354.7,768 C356.3,766.7 357.5,764.3 358.7,764.4 C359.9,764.5 360.9,765.1 362,768.7 C363.1,772.3 364.2,780.2 365.3,786 C366.4,791.8 367.6,798.6 368.7,803.3 C369.8,808 370.8,813.4 372,814 C373.2,814.6 374.4,810.7 376,806.7 C377.6,802.7 378.9,795.5 381.3,790 C383.8,784.5 387.8,778 390.7,774 C393.6,770 396.5,768.3 398.7,766 C400.9,763.7 402.4,760.2 403.7,760 C405,759.8 405.8,760.8 406.7,764.7 C407.6,768.6 408.3,776.9 409.3,783.3 C410.3,789.7 411.6,801.3 412.7,803.1 C413.8,804.9 414.6,797.5 416,794 C417.4,790.5 419.3,784.9 421.3,782 C423.3,779.1 424.4,778.3 428,776.7 C431.6,775.1 439.4,772.6 442.7,772.4 C446,772.2 446.1,774.1 448,775.3 C449.9,776.4 452,779 454,779.3 C456,779.6 456.8,777.7 460,777 C463.2,776.3 466.6,775.4 473.3,775 C480,774.6 473.3,774.8 500,774.7 C534.6,774.6 650.8,774.5 681,774.5" fill="none" stroke="#0000ff" stroke-width="3.0" stroke-linejoin="round" stroke-linecap="round"/>
<path d="M41,767.2 C69.7,767.2 182.9,767.1 213.3,766.9 C223.7,766.6 219.4,766.7 223.7,765.7 C228,764.7 235.5,761.6 239.3,761.1 C243.1,760.6 243.4,761.7 246.3,762.5 C249.2,763.3 253.5,765.5 256.7,765.7 C259.9,765.9 262.1,765.2 265.3,763.9 C268.5,762.6 272.5,758 275.7,757.9 C278.9,757.8 281.8,761.8 284.4,763.4 C287,765 289.1,767 291.3,767.4 C293.5,767.8 295.4,767.1 297.3,766 C299.2,764.9 301.1,763.2 302.7,760.7 C304.3,758.2 305.4,754 306.7,751.3 C308,748.6 309.4,745.1 310.7,744.4 C312,743.7 313.4,745.2 314.7,747.3 C316,749.3 317.3,754.1 318.7,756.7 C320.1,759.3 321.5,763.3 323.3,763.1 C325.1,762.9 327.4,757.4 329.3,755.3 C331.2,753.2 332.9,750.1 334.7,750.3 C336.5,750.5 337.8,755.8 340,756.7 C342.2,757.7 345.1,755.8 348,756 C350.9,756.2 355,756.5 357.3,758 C359.6,759.5 360.7,760.9 362,764.7 C363.3,768.5 363.9,776.3 365.3,780.7 C366.8,785.1 369.1,787.6 370.7,791.3 C372.3,795 373.4,803.6 374.7,802.7 C376,801.8 377.4,790.3 378.7,786 C380,781.7 381.4,778.7 382.7,776.7 C384,774.7 384.9,775.8 386.7,774 C388.5,772.2 391.3,768 393.3,766 C395.3,764 396.9,762 398.7,762 C400.5,762 402.4,763.8 404,766 C405.6,768.2 406.4,770.3 408,775.3 C409.6,780.3 411.8,794 413.3,796 C414.9,798 415.7,790.8 417.3,787.3 C418.9,783.8 420.5,778.2 422.7,775.3 C424.9,772.4 427.4,771.1 430.7,770 C434,768.9 439.6,768.5 442.7,768.7 C445.8,768.9 447.1,770.1 449.3,771.3 C451.5,772.5 453.6,775.8 456,776 C458.4,776.2 461.3,773.8 464,772.7 C466.7,771.6 468.7,770.1 472,769.6 C475.3,769.1 480.2,769.4 484,770 C487.8,770.6 491.1,773.5 494.7,773.3 C498.2,773.1 501.5,769.7 505.3,768.7 C509.1,767.8 511.5,767.8 517.3,767.6 C523.1,767.4 517.3,767.4 540,767.3 C567.3,767.2 657.5,767 681,767" fill="none" stroke="#808080" stroke-width="3.0" stroke-linejoin="round" stroke-linecap="round"/>
<path d="M41,877 C55.3,876.9 100.9,876.6 126.7,876.1 C152.5,875.6 175.8,874.7 196,873.8 C216.2,872.9 236.4,872.1 248,870.9 C259.6,869.7 260.4,867.7 265.3,866.5 C270.2,865.3 274.4,864 277.5,863.9 C280.6,863.8 281.8,865.2 284,866 C286.2,866.8 288.7,868.7 290.7,868.7 C292.7,868.7 293.8,867.9 296,866 C298.2,864.1 301.1,859.8 304,857.3 C306.9,854.8 311.1,852.2 313.3,851.3 C315.5,850.4 316,850.4 317.3,852 C318.6,853.6 319.7,855.9 321.3,860.7 C322.9,865.5 325.1,875.8 326.7,880.7 C328.3,885.6 329.1,889.8 330.7,890 C332.2,890.2 334,884.5 336,882 C338,879.5 340.7,877.3 342.7,875.3 C344.7,873.3 346.2,871.7 348,870 C349.8,868.3 351.3,865.8 353.3,864.9 C355.3,864 358.3,864.1 360,864.7 C361.7,865.3 362.2,865.6 363.3,868.7 C364.4,871.8 365.5,877.1 366.7,883.3 C367.9,889.5 369.4,900.8 370.7,906 C372,911.2 373.1,913.8 374.7,914.7 C376.2,915.6 378,913.4 380,911.3 C382,909.2 384.5,906 386.7,902 C388.9,898 391.3,891.1 393.3,887.3 C395.3,883.5 396.9,880 398.7,879.3 C400.5,878.6 402.2,880.6 404,883.3 C405.8,886 407.6,891.6 409.3,895.3 C411,899 412.2,905.7 414.3,905.5 C416.4,905.3 419.4,897.6 422,894 C424.6,890.4 427,886.3 430,884 C433,881.7 437,880.3 440,880 C443,879.7 445.3,881.2 448,882 C450.7,882.8 453,885 456,885 C459,885 462,882.8 466,882 C470,881.2 475,880.4 480,880 C485,879.6 489.3,879.8 496,879.6 C502.7,879.4 502.7,879.3 520,879 C537.3,878.7 573.2,878.2 600,878 C626.8,877.8 667.5,877.7 681,877.6" fill="none" stroke="#ff0000" stroke-width="3.0" stroke-linejoin="round" stroke-linecap="round"/>
<path d="M41,870.4 C66.8,870.2 167.3,869.5 196,869.1 C213.3,868.7 208.7,868.7 213.3,867.9 C217.9,867.1 219.4,865.7 223.7,864.5 C228,863.3 235.5,860.9 239.3,860.5 C243.1,860.1 243.8,861.3 246.7,862 C249.6,862.7 253.8,864.4 256.7,864.5 C259.6,864.6 260.8,864 264,862.7 C267.2,861.4 273,857.4 275.7,856.5 C278.4,855.6 277.7,856.2 280,857.3 C282.3,858.4 286.9,862.4 289.6,863.1 C292.3,863.8 293.8,863.5 296,861.3 C298.2,859.1 300.2,853.5 302.7,850 C305.1,846.5 308.5,841.1 310.7,840 C312.9,838.9 313.8,841 316,843.3 C318.2,845.6 321.6,852.5 324,854 C326.4,855.5 328.5,853.1 330.7,852 C332.9,850.9 335.1,847.4 337.3,847.3 C339.5,847.2 341.3,849.4 344,851.3 C346.7,853.2 350.4,856 353.3,858.7 C356.2,861.4 359.1,864.3 361.3,867.3 C363.5,870.3 364.9,871.4 366.7,876.7 C368.5,882 370.4,893.6 372,899.3 C373.6,905 374.7,909.8 376,910.7 C377.3,911.6 378,908.6 380,904.7 C382,900.8 385.1,892.1 388,887.3 C390.9,882.5 394.9,877.7 397.3,876 C399.8,874.3 400.9,875.4 402.7,877.3 C404.5,879.2 406.1,883.3 408,887.3 C409.9,891.2 411.7,900.9 414,901 C416.3,901.1 419.3,891.7 422,888 C424.7,884.3 427.3,880.9 430,879 C432.7,877.1 435.3,876.4 438,876.4 C440.7,876.4 443,878 446,879 C449,880 452.7,882.6 456,882.4 C459.3,882.2 462.7,879.1 466,878 C469.3,876.9 473,875.8 476,875.6 C479,875.4 481.2,876.3 484,877 C486.8,877.7 490,879.8 493,879.6 C496,879.4 498.5,877.2 502,876 C505.5,874.8 509.3,873.4 514,872.6 C518.7,871.8 515.7,871.7 530,871.4 C544.3,871.1 574.8,871.1 600,871 C625.2,870.9 667.5,870.7 681,870.6" fill="none" stroke="#808080" stroke-width="3.0" stroke-linejoin="round" stroke-linecap="round"/>
<path d="M41,968.6 C53.8,968.4 90.5,968.2 118,967.3 C145.5,966.3 189,963.7 206,962.9 C220,962.1 212.3,963 220,962.4 C227.7,961.8 242.7,960.4 252,959.2 C261.3,958 269.6,956.1 276,955.2 C282.4,954.4 286.4,955 290.4,954.1 C294.4,953.2 297.2,951.1 300,949.6 C302.8,948.1 305.1,945.6 307.2,945.3 C309.3,945 310.8,947 312.8,948 C314.8,949 317.3,949.3 319.2,951.2 C321.1,953.1 322.4,955.9 324,959.2 C325.6,962.5 327.5,968.8 328.8,971.2 C330.1,973.6 330.4,973.9 332,973.6 C333.6,973.3 336,969.2 338.4,969.6 C340.8,970 344,975.7 346.4,976 C348.8,976.3 350.4,970.4 352.8,971.2 C355.2,972 358.7,978.8 360.8,980.8 C362.9,982.8 364,980.9 365.6,983.2 C367.2,985.5 368.8,990.4 370.4,994.4 C372,998.4 373.3,1005.6 375.2,1007.2 C377.1,1008.8 379.2,1005.1 381.6,1004 C384,1002.9 386.9,1003.2 389.6,1000.8 C392.3,998.4 394.9,991.4 397.6,989.6 C400.3,987.8 403.2,990.3 405.6,989.9 C408,989.5 410.1,987.7 412,987.2 C413.9,986.7 414.1,987.9 416.8,986.7 C419.5,985.5 424,982.1 428,980 C432,977.9 435.5,975.2 440.8,974.1 C446.1,973 447.8,974.2 460,973.6 C472.2,973 490.3,971.5 514,970.8 C537.7,970.1 574.2,969.7 602,969.5 C629.8,969.3 667.8,969.5 681,969.5" fill="none" stroke="#ff0000" stroke-width="3.0" stroke-linejoin="round" stroke-linecap="round"/>
<path d="M41,1039.5 C49.5,1039.4 74.8,1039.4 92,1039 C109.2,1038.6 126.7,1038.1 144,1037.3 C161.3,1036.5 183.3,1035 196,1034.1 C208.7,1033.2 214.5,1032.3 220.3,1032.1 C226.1,1031.9 223.2,1033.3 230.7,1032.9 C238.2,1032.5 257.1,1030.4 265.3,1029.5 C273.5,1028.6 275.8,1028 280,1027.3 C284.2,1026.6 286.9,1026.1 290.7,1025.3 C294.5,1024.5 300,1022.5 302.7,1022.4 C305.4,1022.3 305.1,1023.6 306.7,1024.7 C308.2,1025.9 310,1028.2 312,1029.3 C314,1030.4 316.7,1029.8 318.7,1031.3 C320.7,1032.8 322.3,1036.1 324,1038 C325.7,1039.9 326.7,1042.7 328.7,1042.7 C330.7,1042.7 334.1,1037.8 336,1038 C337.9,1038.2 338.6,1041.9 340,1044 C341.4,1046.1 342.9,1050.7 344.7,1050.7 C346.5,1050.7 348.4,1044 350.7,1044 C353,1044 356.3,1050.2 358.7,1050.7 C361.1,1051.2 363.5,1046.4 365.3,1047.3 C367.1,1048.2 368,1051.9 369.3,1056 C370.6,1060.1 371.7,1068.7 373.3,1072 C374.9,1075.3 376.7,1074.9 378.7,1076 C380.7,1077.1 383.3,1078.9 385.3,1078.7 C387.3,1078.5 389.1,1076.5 390.7,1074.7 C392.3,1072.9 392.5,1070 394.7,1068 C396.9,1066 401.3,1065.2 404,1062.7 C406.7,1060.2 408,1056.1 410.7,1053.3 C413.4,1050.5 416.2,1047.8 420,1046 C423.8,1044.2 427.8,1043.2 433.3,1042.4 C438.9,1041.6 445.5,1041.6 453.3,1041.3 C461.1,1041 453.3,1040.8 480,1040.7 C518,1040.6 647.5,1040.8 681,1040.8" fill="none" stroke="#000" stroke-width="3.0" stroke-linejoin="round" stroke-linecap="round"/>
<path d="M41,1034.3 C49.5,1034.2 74.8,1034.2 92,1033.8 C109.2,1033.4 126.7,1032.6 144,1031.7 C161.3,1030.8 181.6,1029.5 196,1028.6 C210.4,1027.7 219.1,1027.2 230.7,1026.3 C242.2,1025.4 257.1,1024.2 265.3,1023.4 C273.5,1022.6 275.8,1022.2 280,1021.3 C284.2,1020.4 287.2,1019.2 290.7,1018 C294.1,1016.8 296.9,1013.9 300.7,1014 C304.5,1014.1 309.2,1017.2 313.3,1018.7 C317.4,1020.2 322.6,1021.6 325.3,1023.3 C328,1025 328,1027.1 329.3,1028.7 C330.6,1030.3 331.5,1031.5 333.3,1032.7 C335.1,1033.9 337.8,1034.3 340,1036 C342.2,1037.7 344.2,1042.2 346.7,1042.7 C349.1,1043.2 352.3,1039.3 354.7,1039.3 C357.1,1039.3 359.2,1042.6 361.3,1042.7 C363.4,1042.8 365.7,1039.6 367.3,1040 C368.9,1040.4 369.5,1042.2 370.7,1045.3 C371.9,1048.4 373.4,1054.9 374.7,1058.7 C376,1062.5 377.1,1065.6 378.7,1068 C380.2,1070.4 382.2,1073.3 384,1073.3 C385.8,1073.3 387.3,1069.5 389.3,1068 C391.3,1066.5 393.8,1065.8 396,1064 C398.2,1062.2 400.5,1058.3 402.7,1057.3 C404.9,1056.3 407.5,1058.7 409.3,1058 C411.1,1057.3 411.7,1055.3 413.3,1053.3 C414.9,1051.3 416.5,1048.2 418.7,1046 C420.9,1043.8 423.1,1041.5 426.7,1040 C430.2,1038.5 434.4,1037.5 440,1036.7 C445.6,1035.9 453.3,1035.3 460,1034.9 C466.7,1034.5 460,1034.5 480,1034.4 C516.8,1034.3 647.5,1034.3 681,1034.3" fill="none" stroke="#808080" stroke-width="3.0" stroke-linejoin="round" stroke-linecap="round"/>
<line x1="855.5" y1="627" x2="1434.6" y2="627" stroke="#000" stroke-width="1.7"/>
<line x1="855.5" y1="1093.1" x2="1434.6" y2="1093.1" stroke="#000" stroke-width="1.7"/>
<line x1="855.5" y1="626.1" x2="855.5" y2="1093.9" stroke="#000" stroke-width="1.7"/>
<line x1="1434.6" y1="627" x2="1434.6" y2="1093.1" stroke="#ff0000" stroke-width="1.5"/>
<line x1="846.7" y1="1093.1" x2="855.5" y2="1093.1" stroke="#000" stroke-width="1.7"/>
<text x="823.8" y="1103.3" font-size="28.8" fill="#000" stroke="#000" text-anchor="start">0</text>
<line x1="846.7" y1="1047.4" x2="855.5" y2="1047.4" stroke="#000" stroke-width="1.7"/>
<text x="807.8" y="1057.6" font-size="28.8" fill="#000" stroke="#000" text-anchor="start">10</text>
<line x1="846.7" y1="1001.7" x2="855.5" y2="1001.7" stroke="#000" stroke-width="1.7"/>
<text x="807.8" y="1011.9" font-size="28.8" fill="#000" stroke="#000" text-anchor="start">20</text>
<line x1="846.7" y1="956" x2="855.5" y2="956" stroke="#000" stroke-width="1.7"/>
<text x="807.8" y="966.2" font-size="28.8" fill="#000" stroke="#000" text-anchor="start">30</text>
<line x1="846.7" y1="910.3" x2="855.5" y2="910.3" stroke="#000" stroke-width="1.7"/>
<text x="807.8" y="920.6" font-size="28.8" fill="#000" stroke="#000" text-anchor="start">40</text>
<line x1="846.7" y1="864.6" x2="855.5" y2="864.6" stroke="#000" stroke-width="1.7"/>
<text x="807.8" y="874.9" font-size="28.8" fill="#000" stroke="#000" text-anchor="start">50</text>
<line x1="846.7" y1="819" x2="855.5" y2="819" stroke="#000" stroke-width="1.7"/>
<text x="807.8" y="829.2" font-size="28.8" fill="#000" stroke="#000" text-anchor="start">60</text>
<line x1="846.7" y1="773.3" x2="855.5" y2="773.3" stroke="#000" stroke-width="1.7"/>
<text x="807.8" y="783.5" font-size="28.8" fill="#000" stroke="#000" text-anchor="start">70</text>
<line x1="846.7" y1="727.6" x2="855.5" y2="727.6" stroke="#000" stroke-width="1.7"/>
<text x="807.8" y="737.8" font-size="28.8" fill="#000" stroke="#000" text-anchor="start">80</text>
<line x1="846.7" y1="681.9" x2="855.5" y2="681.9" stroke="#000" stroke-width="1.7"/>
<text x="807.8" y="692.1" font-size="28.8" fill="#000" stroke="#000" text-anchor="start">90</text>
<line x1="846.7" y1="636.2" x2="855.5" y2="636.2" stroke="#000" stroke-width="1.7"/>
<text x="791.8" y="646.4" font-size="28.8" fill="#000" stroke="#000" text-anchor="start">100</text>
<line x1="855.5" y1="1093.1" x2="855.5" y2="1102.3" stroke="#000" stroke-width="1.7"/>
<text x="847.5" y="1131.2" font-size="28.8" fill="#000" stroke="#000" text-anchor="start">0</text>
<line x1="908.1" y1="1093.1" x2="908.1" y2="1102.3" stroke="#000" stroke-width="1.7"/>
<text x="900.2" y="1131.2" font-size="28.8" fill="#000" stroke="#000" text-anchor="start">5</text>
<line x1="960.8" y1="1093.1" x2="960.8" y2="1102.3" stroke="#000" stroke-width="1.7"/>
<text x="944.2" y="1131.2" font-size="28.8" fill="#000" stroke="#000" text-anchor="start">10</text>
<line x1="1013.4" y1="1093.1" x2="1013.4" y2="1102.3" stroke="#000" stroke-width="1.7"/>
<text x="996.9" y="1131.2" font-size="28.8" fill="#000" stroke="#000" text-anchor="start">15</text>
<line x1="1066.1" y1="1093.1" x2="1066.1" y2="1102.3" stroke="#000" stroke-width="1.7"/>
<text x="1049.9" y="1131.2" font-size="28.8" fill="#000" stroke="#000" text-anchor="start">20</text>
<line x1="1118.7" y1="1093.1" x2="1118.7" y2="1102.3" stroke="#000" stroke-width="1.7"/>
<text x="1102.6" y="1131.2" font-size="28.8" fill="#000" stroke="#000" text-anchor="start">25</text>
<line x1="1171.4" y1="1093.1" x2="1171.4" y2="1102.3" stroke="#000" stroke-width="1.7"/>
<text x="1155.4" y="1131.2" font-size="28.8" fill="#000" stroke="#000" text-anchor="start">30</text>
<line x1="1224" y1="1093.1" x2="1224" y2="1102.3" stroke="#000" stroke-width="1.7"/>
<text x="1208.1" y="1131.2" font-size="28.8" fill="#000" stroke="#000" text-anchor="start">35</text>
<line x1="1276.7" y1="1093.1" x2="1276.7" y2="1102.3" stroke="#000" stroke-width="1.7"/>
<text x="1260.9" y="1131.2" font-size="28.8" fill="#000" stroke="#000" text-anchor="start">40</text>
<line x1="1329.3" y1="1093.1" x2="1329.3" y2="1102.3" stroke="#000" stroke-width="1.7"/>
<text x="1313.6" y="1131.2" font-size="28.8" fill="#000" stroke="#000" text-anchor="start">45</text>
<line x1="1382" y1="1093.1" x2="1382" y2="1102.3" stroke="#000" stroke-width="1.7"/>
<text x="1365.9" y="1131.2" font-size="28.8" fill="#000" stroke="#000" text-anchor="start">50</text>
<line x1="1434.6" y1="1093.1" x2="1434.6" y2="1102.3" stroke="#000" stroke-width="1.7"/>
<text x="1418.6" y="1131.2" font-size="28.8" fill="#000" stroke="#000" text-anchor="start">55</text>
<line x1="1434.6" y1="1093.1" x2="1443.8" y2="1093.1" stroke="#ff0000" stroke-width="1.5"/>
<text x="1449.6" y="1102.2" font-size="28.8" fill="#ff0000" stroke="#ff0000" text-anchor="start">0</text>
<line x1="1434.6" y1="1015.4" x2="1443.8" y2="1015.4" stroke="#ff0000" stroke-width="1.5"/>
<text x="1449.3" y="1024.5" font-size="28.8" fill="#ff0000" stroke="#ff0000" text-anchor="start">2</text>
<line x1="1434.6" y1="937.7" x2="1443.8" y2="937.7" stroke="#ff0000" stroke-width="1.5"/>
<text x="1450" y="946.7" font-size="28.8" fill="#ff0000" stroke="#ff0000" text-anchor="start">4</text>
<line x1="1434.6" y1="860" x2="1443.8" y2="860" stroke="#ff0000" stroke-width="1.5"/>
<text x="1449.2" y="869.2" font-size="28.8" fill="#ff0000" stroke="#ff0000" text-anchor="start">6</text>
<line x1="1434.6" y1="782.4" x2="1443.8" y2="782.4" stroke="#ff0000" stroke-width="1.5"/>
<text x="1449.4" y="791.5" font-size="28.8" fill="#ff0000" stroke="#ff0000" text-anchor="start">8</text>
<line x1="1434.6" y1="704.7" x2="1443.8" y2="704.7" stroke="#ff0000" stroke-width="1.5"/>
<text x="1449.7" y="713.8" font-size="28.8" fill="#ff0000" stroke="#ff0000" text-anchor="start">10</text>
<line x1="1434.6" y1="627" x2="1443.8" y2="627" stroke="#ff0000" stroke-width="1.5"/>
<text x="1449.7" y="636.1" font-size="28.8" fill="#ff0000" stroke="#ff0000" text-anchor="start">12</text>
<text transform="translate(1498.5,855.58) rotate(-90)" font-size="28.6" text-anchor="middle" fill="#ff0000" stroke="#ff0000">P/E ratio</text>
<text transform="translate(781.2,860.61) rotate(-90)" font-size="28.6" text-anchor="middle" fill="#000" stroke="#000">Conversion (%) or Selectivity (%)</text>
<text x="1023.4" y="1169" font-size="28.8" fill="#000" stroke="#000" text-anchor="start">Time on stream (h)</text>
<text x="767.8" y="645" font-size="32" fill="#000" stroke="#000" text-anchor="start" font-weight="bold">f</text>
<line x1="883.8" y1="636.3" x2="890.4" y2="636.3" stroke="#000" stroke-width="2.0"/>
<line x1="904.8" y1="636.3" x2="911.5" y2="636.3" stroke="#000" stroke-width="2.0"/>
<line x1="925.9" y1="636.3" x2="932.5" y2="636.3" stroke="#000" stroke-width="2.0"/>
<line x1="946.9" y1="636.3" x2="953.6" y2="636.3" stroke="#000" stroke-width="2.0"/>
<line x1="968" y1="636.3" x2="974.6" y2="636.3" stroke="#000" stroke-width="2.0"/>
<line x1="989" y1="636.3" x2="995.7" y2="636.3" stroke="#000" stroke-width="2.0"/>
<line x1="1010.1" y1="636.3" x2="1016.8" y2="636.3" stroke="#000" stroke-width="2.0"/>
<line x1="1031.2" y1="636.3" x2="1037.8" y2="636.3" stroke="#000" stroke-width="2.0"/>
<line x1="1052.2" y1="636.3" x2="1058.9" y2="636.3" stroke="#000" stroke-width="2.0"/>
<line x1="1073.3" y1="636.3" x2="1079.9" y2="636.3" stroke="#000" stroke-width="2.0"/>
<line x1="1094.3" y1="636.3" x2="1101" y2="636.3" stroke="#000" stroke-width="2.0"/>
<line x1="1115.4" y1="636.3" x2="1122.1" y2="636.3" stroke="#000" stroke-width="2.0"/>
<line x1="1136.5" y1="636.3" x2="1143.1" y2="636.3" stroke="#000" stroke-width="2.0"/>
<line x1="1157.5" y1="636.3" x2="1164.2" y2="636.3" stroke="#000" stroke-width="2.0"/>
<line x1="1178.6" y1="636.3" x2="1185.2" y2="636.3" stroke="#000" stroke-width="2.0"/>
<line x1="1199.6" y1="636.3" x2="1206.3" y2="636.3" stroke="#000" stroke-width="2.0"/>
<line x1="1220.7" y1="636.3" x2="1227.3" y2="636.3" stroke="#000" stroke-width="2.0"/>
<line x1="1241.7" y1="636.3" x2="1248.4" y2="636.3" stroke="#000" stroke-width="2.0"/>
<line x1="1262.8" y1="636.3" x2="1269.5" y2="636.3" stroke="#000" stroke-width="2.0"/>
<line x1="1283.9" y1="636.3" x2="1290.5" y2="636.3" stroke="#000" stroke-width="2.0"/>
<line x1="1304.9" y1="636.3" x2="1311.6" y2="636.3" stroke="#000" stroke-width="2.0"/>
<line x1="1326" y1="636.3" x2="1332.6" y2="636.3" stroke="#000" stroke-width="2.0"/>
<line x1="1347" y1="636.3" x2="1353.7" y2="636.3" stroke="#000" stroke-width="2.0"/>
<line x1="1368.1" y1="636.3" x2="1374.8" y2="636.3" stroke="#000" stroke-width="2.0"/>
<line x1="1389.2" y1="636.3" x2="1395.8" y2="636.3" stroke="#000" stroke-width="2.0"/>
<line x1="1410.2" y1="636.3" x2="1416.9" y2="636.3" stroke="#000" stroke-width="2.0"/>
<rect x="871.6" y="631.3" width="10" height="10" fill="none" stroke="#777" stroke-width="1"/>
<path d="M871.6,631.3 L881.6,641.3 M871.6,641.3 L881.6,631.3" stroke="#000" stroke-width="1.1"/>
<rect x="892.6" y="631.3" width="10" height="10" fill="none" stroke="#777" stroke-width="1"/>
<path d="M892.6,631.3 L902.6,641.3 M892.6,641.3 L902.6,631.3" stroke="#000" stroke-width="1.1"/>
<rect x="913.7" y="631.3" width="10" height="10" fill="none" stroke="#777" stroke-width="1"/>
<path d="M913.7,631.3 L923.7,641.3 M913.7,641.3 L923.7,631.3" stroke="#000" stroke-width="1.1"/>
<rect x="934.7" y="631.3" width="10" height="10" fill="none" stroke="#777" stroke-width="1"/>
<path d="M934.7,631.3 L944.7,641.3 M934.7,641.3 L944.7,631.3" stroke="#000" stroke-width="1.1"/>
<rect x="955.8" y="631.3" width="10" height="10" fill="none" stroke="#777" stroke-width="1"/>
<path d="M955.8,631.3 L965.8,641.3 M955.8,641.3 L965.8,631.3" stroke="#000" stroke-width="1.1"/>
<rect x="976.8" y="631.3" width="10" height="10" fill="none" stroke="#777" stroke-width="1"/>
<path d="M976.8,631.3 L986.8,641.3 M976.8,641.3 L986.8,631.3" stroke="#000" stroke-width="1.1"/>
<rect x="997.9" y="631.3" width="10" height="10" fill="none" stroke="#777" stroke-width="1"/>
<path d="M997.9,631.3 L1007.9,641.3 M997.9,641.3 L1007.9,631.3" stroke="#000" stroke-width="1.1"/>
<rect x="1019" y="631.3" width="10" height="10" fill="none" stroke="#777" stroke-width="1"/>
<path d="M1019,631.3 L1029,641.3 M1019,641.3 L1029,631.3" stroke="#000" stroke-width="1.1"/>
<rect x="1040" y="631.3" width="10" height="10" fill="none" stroke="#777" stroke-width="1"/>
<path d="M1040,631.3 L1050,641.3 M1040,641.3 L1050,631.3" stroke="#000" stroke-width="1.1"/>
<rect x="1061.1" y="631.3" width="10" height="10" fill="none" stroke="#777" stroke-width="1"/>
<path d="M1061.1,631.3 L1071.1,641.3 M1061.1,641.3 L1071.1,631.3" stroke="#000" stroke-width="1.1"/>
<rect x="1082.1" y="631.3" width="10" height="10" fill="none" stroke="#777" stroke-width="1"/>
<path d="M1082.1,631.3 L1092.1,641.3 M1082.1,641.3 L1092.1,631.3" stroke="#000" stroke-width="1.1"/>
<rect x="1103.2" y="631.3" width="10" height="10" fill="none" stroke="#777" stroke-width="1"/>
<path d="M1103.2,631.3 L1113.2,641.3 M1103.2,641.3 L1113.2,631.3" stroke="#000" stroke-width="1.1"/>
<rect x="1124.3" y="631.3" width="10" height="10" fill="none" stroke="#777" stroke-width="1"/>
<path d="M1124.3,631.3 L1134.3,641.3 M1124.3,641.3 L1134.3,631.3" stroke="#000" stroke-width="1.1"/>
<rect x="1145.3" y="631.3" width="10" height="10" fill="none" stroke="#777" stroke-width="1"/>
<path d="M1145.3,631.3 L1155.3,641.3 M1145.3,641.3 L1155.3,631.3" stroke="#000" stroke-width="1.1"/>
<rect x="1166.4" y="631.3" width="10" height="10" fill="none" stroke="#777" stroke-width="1"/>
<path d="M1166.4,631.3 L1176.4,641.3 M1166.4,641.3 L1176.4,631.3" stroke="#000" stroke-width="1.1"/>
<rect x="1187.4" y="631.3" width="10" height="10" fill="none" stroke="#777" stroke-width="1"/>
<path d="M1187.4,631.3 L1197.4,641.3 M1187.4,641.3 L1197.4,631.3" stroke="#000" stroke-width="1.1"/>
<rect x="1208.5" y="631.3" width="10" height="10" fill="none" stroke="#777" stroke-width="1"/>
<path d="M1208.5,631.3 L1218.5,641.3 M1208.5,641.3 L1218.5,631.3" stroke="#000" stroke-width="1.1"/>
<rect x="1229.5" y="631.3" width="10" height="10" fill="none" stroke="#777" stroke-width="1"/>
<path d="M1229.5,631.3 L1239.5,641.3 M1229.5,641.3 L1239.5,631.3" stroke="#000" stroke-width="1.1"/>
<rect x="1250.6" y="631.3" width="10" height="10" fill="none" stroke="#777" stroke-width="1"/>
<path d="M1250.6,631.3 L1260.6,641.3 M1250.6,641.3 L1260.6,631.3" stroke="#000" stroke-width="1.1"/>
<rect x="1271.7" y="631.3" width="10" height="10" fill="none" stroke="#777" stroke-width="1"/>
<path d="M1271.7,631.3 L1281.7,641.3 M1271.7,641.3 L1281.7,631.3" stroke="#000" stroke-width="1.1"/>
<rect x="1292.7" y="631.3" width="10" height="10" fill="none" stroke="#777" stroke-width="1"/>
<path d="M1292.7,631.3 L1302.7,641.3 M1292.7,641.3 L1302.7,631.3" stroke="#000" stroke-width="1.1"/>
<rect x="1313.8" y="631.3" width="10" height="10" fill="none" stroke="#777" stroke-width="1"/>
<path d="M1313.8,631.3 L1323.8,641.3 M1313.8,641.3 L1323.8,631.3" stroke="#000" stroke-width="1.1"/>
<rect x="1334.8" y="631.3" width="10" height="10" fill="none" stroke="#777" stroke-width="1"/>
<path d="M1334.8,631.3 L1344.8,641.3 M1334.8,641.3 L1344.8,631.3" stroke="#000" stroke-width="1.1"/>
<rect x="1355.9" y="631.3" width="10" height="10" fill="none" stroke="#777" stroke-width="1"/>
<path d="M1355.9,631.3 L1365.9,641.3 M1355.9,641.3 L1365.9,631.3" stroke="#000" stroke-width="1.1"/>
<rect x="1377" y="631.3" width="10" height="10" fill="none" stroke="#777" stroke-width="1"/>
<path d="M1377,631.3 L1387,641.3 M1377,641.3 L1387,631.3" stroke="#000" stroke-width="1.1"/>
<rect x="1398" y="631.3" width="10" height="10" fill="none" stroke="#777" stroke-width="1"/>
<path d="M1398,631.3 L1408,641.3 M1398,641.3 L1408,631.3" stroke="#000" stroke-width="1.1"/>
<rect x="1419.1" y="631.3" width="10" height="10" fill="none" stroke="#777" stroke-width="1"/>
<path d="M1419.1,631.3 L1429.1,641.3 M1419.1,641.3 L1429.1,631.3" stroke="#000" stroke-width="1.1"/>
<line x1="883.3" y1="765.3" x2="890.9" y2="760.3" stroke="#ff0000" stroke-width="2.1"/>
<line x1="903.4" y1="761.5" x2="912.9" y2="770.6" stroke="#ff0000" stroke-width="2.1"/>
<line x1="926.6" y1="775.3" x2="931.8" y2="774.8" stroke="#ff0000" stroke-width="2.1"/>
<line x1="946.9" y1="777.6" x2="953.6" y2="781" stroke="#ff0000" stroke-width="2.1"/>
<line x1="965.6" y1="778.2" x2="977" y2="763.4" stroke="#ff0000" stroke-width="2.1"/>
<line x1="989.8" y1="755.9" x2="995" y2="755.2" stroke="#ff0000" stroke-width="2.1"/>
<line x1="1010.9" y1="754.9" x2="1016" y2="755.4" stroke="#ff0000" stroke-width="2.1"/>
<line x1="1028.5" y1="762.8" x2="1040.5" y2="780.4" stroke="#ff0000" stroke-width="2.1"/>
<line x1="1053" y1="787.6" x2="1058.1" y2="787.9" stroke="#ff0000" stroke-width="2.1"/>
<line x1="1073.6" y1="791.2" x2="1079.6" y2="793.3" stroke="#ff0000" stroke-width="2.1"/>
<line x1="1095.1" y1="795.8" x2="1100.2" y2="795.7" stroke="#ff0000" stroke-width="2.1"/>
<line x1="1113.6" y1="789.6" x2="1123.9" y2="778.2" stroke="#ff0000" stroke-width="2.1"/>
<line x1="1134.2" y1="766" x2="1145.3" y2="752" stroke="#ff0000" stroke-width="2.1"/>
<line x1="1156.4" y1="750.8" x2="1165.2" y2="758.3" stroke="#ff0000" stroke-width="2.1"/>
<line x1="1179.1" y1="765.5" x2="1184.7" y2="767.1" stroke="#ff0000" stroke-width="2.1"/>
<line x1="1198.3" y1="763.7" x2="1207.6" y2="755.1" stroke="#ff0000" stroke-width="2.1"/>
<line x1="1220.8" y1="752.8" x2="1227.2" y2="755.7" stroke="#ff0000" stroke-width="2.1"/>
<line x1="1242.5" y1="758.7" x2="1247.6" y2="758.5" stroke="#ff0000" stroke-width="2.1"/>
<line x1="1261.3" y1="752.6" x2="1271" y2="742.9" stroke="#ff0000" stroke-width="2.1"/>
<line x1="1281.1" y1="743.8" x2="1293.3" y2="762" stroke="#ff0000" stroke-width="2.1"/>
<line x1="1305.7" y1="768.1" x2="1310.8" y2="767.7" stroke="#ff0000" stroke-width="2.1"/>
<line x1="1326.8" y1="767.7" x2="1331.9" y2="768.1" stroke="#ff0000" stroke-width="2.1"/>
<line x1="1346.6" y1="764.4" x2="1354.1" y2="759.6" stroke="#ff0000" stroke-width="2.1"/>
<line x1="1365.7" y1="749" x2="1377.2" y2="733.3" stroke="#ff0000" stroke-width="2.1"/>
<line x1="1387.7" y1="721.3" x2="1397.3" y2="711.8" stroke="#ff0000" stroke-width="2.1"/>
<line x1="1408.3" y1="712.2" x2="1418.7" y2="723.8" stroke="#ff0000" stroke-width="2.1"/>
<path d="M876.6,763.1 L882.1,772.5 L871.1,772.5 Z" fill="#ff0000" stroke="#ff0000" stroke-width="1.2" stroke-linejoin="miter"/>
<path d="M897.6,749.5 L903.1,758.9 L892.1,758.9 Z" fill="#ff0000" stroke="#ff0000" stroke-width="1.2" stroke-linejoin="miter"/>
<path d="M918.7,769.6 L924.2,779 L913.2,779 Z" fill="#ff0000" stroke="#ff0000" stroke-width="1.2" stroke-linejoin="miter"/>
<path d="M939.7,767.5 L945.2,776.9 L934.2,776.9 Z" fill="#ff0000" stroke="#ff0000" stroke-width="1.2" stroke-linejoin="miter"/>
<path d="M960.8,778.1 L966.3,787.5 L955.3,787.5 Z" fill="#ff0000" stroke="#ff0000" stroke-width="1.2" stroke-linejoin="miter"/>
<path d="M981.8,750.5 L987.3,759.9 L976.3,759.9 Z" fill="#ff0000" stroke="#ff0000" stroke-width="1.2" stroke-linejoin="miter"/>
<path d="M1002.9,747.6 L1008.4,757 L997.4,757 Z" fill="#ff0000" stroke="#ff0000" stroke-width="1.2" stroke-linejoin="miter"/>
<path d="M1024,749.7 L1029.5,759.1 L1018.5,759.1 Z" fill="#ff0000" stroke="#ff0000" stroke-width="1.2" stroke-linejoin="miter"/>
<path d="M1045,780.5 L1050.5,789.9 L1039.5,789.9 Z" fill="#ff0000" stroke="#ff0000" stroke-width="1.2" stroke-linejoin="miter"/>
<path d="M1066.1,782 L1071.6,791.4 L1060.6,791.4 Z" fill="#ff0000" stroke="#ff0000" stroke-width="1.2" stroke-linejoin="miter"/>
<path d="M1087.1,789.5 L1092.6,798.9 L1081.6,798.9 Z" fill="#ff0000" stroke="#ff0000" stroke-width="1.2" stroke-linejoin="miter"/>
<path d="M1108.2,789 L1113.7,798.4 L1102.7,798.4 Z" fill="#ff0000" stroke="#ff0000" stroke-width="1.2" stroke-linejoin="miter"/>
<path d="M1129.3,765.8 L1134.8,775.2 L1123.8,775.2 Z" fill="#ff0000" stroke="#ff0000" stroke-width="1.2" stroke-linejoin="miter"/>
<path d="M1150.3,739.2 L1155.8,748.6 L1144.8,748.6 Z" fill="#ff0000" stroke="#ff0000" stroke-width="1.2" stroke-linejoin="miter"/>
<path d="M1171.4,756.9 L1176.9,766.3 L1165.9,766.3 Z" fill="#ff0000" stroke="#ff0000" stroke-width="1.2" stroke-linejoin="miter"/>
<path d="M1192.4,762.7 L1197.9,772.1 L1186.9,772.1 Z" fill="#ff0000" stroke="#ff0000" stroke-width="1.2" stroke-linejoin="miter"/>
<path d="M1213.5,743.1 L1219,752.5 L1208,752.5 Z" fill="#ff0000" stroke="#ff0000" stroke-width="1.2" stroke-linejoin="miter"/>
<path d="M1234.5,752.4 L1240,761.8 L1229,761.8 Z" fill="#ff0000" stroke="#ff0000" stroke-width="1.2" stroke-linejoin="miter"/>
<path d="M1255.6,751.8 L1261.1,761.2 L1250.1,761.2 Z" fill="#ff0000" stroke="#ff0000" stroke-width="1.2" stroke-linejoin="miter"/>
<path d="M1276.7,730.7 L1282.2,740.1 L1271.2,740.1 Z" fill="#ff0000" stroke="#ff0000" stroke-width="1.2" stroke-linejoin="miter"/>
<path d="M1297.7,762.1 L1303.2,771.5 L1292.2,771.5 Z" fill="#ff0000" stroke="#ff0000" stroke-width="1.2" stroke-linejoin="miter"/>
<path d="M1318.8,760.7 L1324.3,770.1 L1313.3,770.1 Z" fill="#ff0000" stroke="#ff0000" stroke-width="1.2" stroke-linejoin="miter"/>
<path d="M1339.8,762.1 L1345.3,771.5 L1334.3,771.5 Z" fill="#ff0000" stroke="#ff0000" stroke-width="1.2" stroke-linejoin="miter"/>
<path d="M1360.9,748.9 L1366.4,758.3 L1355.4,758.3 Z" fill="#ff0000" stroke="#ff0000" stroke-width="1.2" stroke-linejoin="miter"/>
<path d="M1382,720.4 L1387.5,729.8 L1376.5,729.8 Z" fill="#ff0000" stroke="#ff0000" stroke-width="1.2" stroke-linejoin="miter"/>
<path d="M1403,699.7 L1408.5,709.1 L1397.5,709.1 Z" fill="#ff0000" stroke="#ff0000" stroke-width="1.2" stroke-linejoin="miter"/>
<path d="M1424.1,723.3 L1429.6,732.7 L1418.6,732.7 Z" fill="#ff0000" stroke="#ff0000" stroke-width="1.2" stroke-linejoin="miter"/>
<line x1="883.9" y1="859.8" x2="890.2" y2="859.2" stroke="#0000ff" stroke-width="2.1"/>
<line x1="905" y1="858.4" x2="911.3" y2="858.1" stroke="#0000ff" stroke-width="2.1"/>
<line x1="925.8" y1="859.9" x2="932.6" y2="861.7" stroke="#0000ff" stroke-width="2.1"/>
<line x1="947.1" y1="863.9" x2="953.4" y2="864" stroke="#0000ff" stroke-width="2.1"/>
<line x1="968" y1="862.6" x2="974.6" y2="861.2" stroke="#0000ff" stroke-width="2.1"/>
<line x1="989.2" y1="858.9" x2="995.5" y2="858.2" stroke="#0000ff" stroke-width="2.1"/>
<line x1="1010.3" y1="857.9" x2="1016.6" y2="858.2" stroke="#0000ff" stroke-width="2.1"/>
<line x1="1031" y1="856.2" x2="1038" y2="853.9" stroke="#0000ff" stroke-width="2.1"/>
<line x1="1052.4" y1="850.5" x2="1058.8" y2="849.6" stroke="#0000ff" stroke-width="2.1"/>
<line x1="1073.5" y1="848.4" x2="1079.7" y2="848.2" stroke="#0000ff" stroke-width="2.1"/>
<line x1="1094.4" y1="846.7" x2="1100.9" y2="845.4" stroke="#0000ff" stroke-width="2.1"/>
<line x1="1114.8" y1="847.4" x2="1122.6" y2="851.1" stroke="#0000ff" stroke-width="2.1"/>
<line x1="1136.6" y1="854.9" x2="1142.9" y2="855.2" stroke="#0000ff" stroke-width="2.1"/>
<line x1="1157.6" y1="854.5" x2="1164.1" y2="853.4" stroke="#0000ff" stroke-width="2.1"/>
<line x1="1178.6" y1="853.6" x2="1185.2" y2="854.9" stroke="#0000ff" stroke-width="2.1"/>
<line x1="1199.6" y1="854.3" x2="1206.4" y2="852.5" stroke="#0000ff" stroke-width="2.1"/>
<line x1="1220.9" y1="850" x2="1227.2" y2="849.6" stroke="#0000ff" stroke-width="2.1"/>
<line x1="1241.9" y1="850.2" x2="1248.3" y2="851.1" stroke="#0000ff" stroke-width="2.1"/>
<line x1="1263" y1="851.4" x2="1269.3" y2="850.7" stroke="#0000ff" stroke-width="2.1"/>
<line x1="1283" y1="846.1" x2="1291.3" y2="841.3" stroke="#0000ff" stroke-width="2.1"/>
<line x1="1305.1" y1="838.1" x2="1311.4" y2="838.5" stroke="#0000ff" stroke-width="2.1"/>
<line x1="1326.2" y1="839.5" x2="1332.4" y2="839.8" stroke="#0000ff" stroke-width="2.1"/>
<line x1="1347.2" y1="839.5" x2="1353.5" y2="838.8" stroke="#0000ff" stroke-width="2.1"/>
<line x1="1367.8" y1="840.8" x2="1375.1" y2="843.7" stroke="#0000ff" stroke-width="2.1"/>
<line x1="1389.4" y1="846.5" x2="1395.6" y2="846.7" stroke="#0000ff" stroke-width="2.1"/>
<line x1="1409.6" y1="850.2" x2="1417.5" y2="854.3" stroke="#0000ff" stroke-width="2.1"/>
<circle cx="876.6" cy="860.4" r="5.2" fill="#0000ff"/>
<circle cx="897.6" cy="858.6" r="5.2" fill="#0000ff"/>
<circle cx="918.7" cy="857.9" r="5.2" fill="#0000ff"/>
<circle cx="939.7" cy="863.7" r="5.2" fill="#0000ff"/>
<circle cx="960.8" cy="864.2" r="5.2" fill="#0000ff"/>
<circle cx="981.8" cy="859.6" r="5.2" fill="#0000ff"/>
<circle cx="1002.9" cy="857.5" r="5.2" fill="#0000ff"/>
<circle cx="1024" cy="858.6" r="5.2" fill="#0000ff"/>
<circle cx="1045" cy="851.5" r="5.2" fill="#0000ff"/>
<circle cx="1066.1" cy="848.6" r="5.2" fill="#0000ff"/>
<circle cx="1087.1" cy="848" r="5.2" fill="#0000ff"/>
<circle cx="1108.2" cy="844.1" r="5.2" fill="#0000ff"/>
<circle cx="1129.3" cy="854.4" r="5.2" fill="#0000ff"/>
<circle cx="1150.3" cy="855.7" r="5.2" fill="#0000ff"/>
<circle cx="1171.4" cy="852.2" r="5.2" fill="#0000ff"/>
<circle cx="1192.4" cy="856.3" r="5.2" fill="#0000ff"/>
<circle cx="1213.5" cy="850.5" r="5.2" fill="#0000ff"/>
<circle cx="1234.5" cy="849.1" r="5.2" fill="#0000ff"/>
<circle cx="1255.6" cy="852.2" r="5.2" fill="#0000ff"/>
<circle cx="1276.7" cy="849.9" r="5.2" fill="#0000ff"/>
<circle cx="1297.7" cy="837.5" r="5.2" fill="#0000ff"/>
<circle cx="1318.8" cy="839.1" r="5.2" fill="#0000ff"/>
<circle cx="1339.8" cy="840.2" r="5.2" fill="#0000ff"/>
<circle cx="1360.9" cy="838.1" r="5.2" fill="#0000ff"/>
<circle cx="1382" cy="846.4" r="5.2" fill="#0000ff"/>
<circle cx="1403" cy="846.8" r="5.2" fill="#0000ff"/>
<circle cx="1424.1" cy="857.7" r="5.2" fill="#0000ff"/>
<line x1="883.8" y1="947.8" x2="890.3" y2="945.8" stroke="#0000ff" stroke-width="2.1"/>
<line x1="905.2" y1="943.7" x2="911.1" y2="943.7" stroke="#0000ff" stroke-width="2.1"/>
<line x1="926.3" y1="943.7" x2="932.1" y2="943.7" stroke="#0000ff" stroke-width="2.1"/>
<line x1="947.3" y1="943.3" x2="953.2" y2="943" stroke="#0000ff" stroke-width="2.1"/>
<line x1="968.4" y1="943.3" x2="974.3" y2="943.8" stroke="#0000ff" stroke-width="2.1"/>
<line x1="989.3" y1="945.7" x2="995.4" y2="946.8" stroke="#0000ff" stroke-width="2.1"/>
<line x1="1010.5" y1="947.3" x2="1016.4" y2="946.7" stroke="#0000ff" stroke-width="2.1"/>
<line x1="1031.4" y1="944.3" x2="1037.6" y2="942.9" stroke="#0000ff" stroke-width="2.1"/>
<line x1="1052.6" y1="941.2" x2="1058.5" y2="941.2" stroke="#0000ff" stroke-width="2.1"/>
<line x1="1073.7" y1="941.1" x2="1079.5" y2="940.9" stroke="#0000ff" stroke-width="2.1"/>
<line x1="1094.7" y1="940.8" x2="1100.6" y2="940.8" stroke="#0000ff" stroke-width="2.1"/>
<line x1="1115.7" y1="941.8" x2="1121.7" y2="942.5" stroke="#0000ff" stroke-width="2.1"/>
<line x1="1136.9" y1="943.6" x2="1142.7" y2="943.8" stroke="#0000ff" stroke-width="2.1"/>
<line x1="1157.9" y1="944.1" x2="1163.8" y2="944.2" stroke="#0000ff" stroke-width="2.1"/>
<line x1="1179" y1="944.1" x2="1184.8" y2="944" stroke="#0000ff" stroke-width="2.1"/>
<line x1="1200" y1="944.6" x2="1205.9" y2="945.2" stroke="#0000ff" stroke-width="2.1"/>
<line x1="1221.1" y1="946.1" x2="1226.9" y2="946.1" stroke="#0000ff" stroke-width="2.1"/>
<line x1="1242.1" y1="945.1" x2="1248.1" y2="944.2" stroke="#0000ff" stroke-width="2.1"/>
<line x1="1263.2" y1="943.2" x2="1269.1" y2="943.2" stroke="#0000ff" stroke-width="2.1"/>
<line x1="1284.2" y1="942.7" x2="1290.1" y2="942.4" stroke="#0000ff" stroke-width="2.1"/>
<line x1="1305.3" y1="941.9" x2="1311.2" y2="941.9" stroke="#0000ff" stroke-width="2.1"/>
<line x1="1326.4" y1="941.9" x2="1332.2" y2="941.9" stroke="#0000ff" stroke-width="2.1"/>
<line x1="1347.4" y1="941.9" x2="1353.3" y2="941.9" stroke="#0000ff" stroke-width="2.1"/>
<line x1="1368.4" y1="943.2" x2="1374.5" y2="944.3" stroke="#0000ff" stroke-width="2.1"/>
<line x1="1389.6" y1="945.6" x2="1395.4" y2="945.6" stroke="#0000ff" stroke-width="2.1"/>
<line x1="1410.6" y1="944.9" x2="1416.5" y2="944.4" stroke="#0000ff" stroke-width="2.1"/>
<circle cx="876.6" cy="949.9" r="5.3" fill="#fff" stroke="#0000ff" stroke-width="1.1"/>
<circle cx="897.6" cy="943.7" r="5.3" fill="#fff" stroke="#0000ff" stroke-width="1.1"/>
<circle cx="918.7" cy="943.7" r="5.3" fill="#fff" stroke="#0000ff" stroke-width="1.1"/>
<circle cx="939.7" cy="943.7" r="5.3" fill="#fff" stroke="#0000ff" stroke-width="1.1"/>
<circle cx="960.8" cy="942.6" r="5.3" fill="#fff" stroke="#0000ff" stroke-width="1.1"/>
<circle cx="981.8" cy="944.5" r="5.3" fill="#fff" stroke="#0000ff" stroke-width="1.1"/>
<circle cx="1002.9" cy="948" r="5.3" fill="#fff" stroke="#0000ff" stroke-width="1.1"/>
<circle cx="1024" cy="946" r="5.3" fill="#fff" stroke="#0000ff" stroke-width="1.1"/>
<circle cx="1045" cy="941.2" r="5.3" fill="#fff" stroke="#0000ff" stroke-width="1.1"/>
<circle cx="1066.1" cy="941.2" r="5.3" fill="#fff" stroke="#0000ff" stroke-width="1.1"/>
<circle cx="1087.1" cy="940.8" r="5.3" fill="#fff" stroke="#0000ff" stroke-width="1.1"/>
<circle cx="1108.2" cy="940.8" r="5.3" fill="#fff" stroke="#0000ff" stroke-width="1.1"/>
<circle cx="1129.3" cy="943.5" r="5.3" fill="#fff" stroke="#0000ff" stroke-width="1.1"/>
<circle cx="1150.3" cy="943.9" r="5.3" fill="#fff" stroke="#0000ff" stroke-width="1.1"/>
<circle cx="1171.4" cy="944.4" r="5.3" fill="#fff" stroke="#0000ff" stroke-width="1.1"/>
<circle cx="1192.4" cy="943.7" r="5.3" fill="#fff" stroke="#0000ff" stroke-width="1.1"/>
<circle cx="1213.5" cy="946.1" r="5.3" fill="#fff" stroke="#0000ff" stroke-width="1.1"/>
<circle cx="1234.5" cy="946.1" r="5.3" fill="#fff" stroke="#0000ff" stroke-width="1.1"/>
<circle cx="1255.6" cy="943.2" r="5.3" fill="#fff" stroke="#0000ff" stroke-width="1.1"/>
<circle cx="1276.7" cy="943.2" r="5.3" fill="#fff" stroke="#0000ff" stroke-width="1.1"/>
<circle cx="1297.7" cy="941.9" r="5.3" fill="#fff" stroke="#0000ff" stroke-width="1.1"/>
<circle cx="1318.8" cy="941.9" r="5.3" fill="#fff" stroke="#0000ff" stroke-width="1.1"/>
<circle cx="1339.8" cy="941.9" r="5.3" fill="#fff" stroke="#0000ff" stroke-width="1.1"/>
<circle cx="1360.9" cy="941.9" r="5.3" fill="#fff" stroke="#0000ff" stroke-width="1.1"/>
<circle cx="1382" cy="945.6" r="5.3" fill="#fff" stroke="#0000ff" stroke-width="1.1"/>
<circle cx="1403" cy="945.6" r="5.3" fill="#fff" stroke="#0000ff" stroke-width="1.1"/>
<circle cx="1424.1" cy="943.7" r="5.3" fill="#fff" stroke="#0000ff" stroke-width="1.1"/>
<line x1="883.8" y1="1029.4" x2="890.4" y2="1030.3" stroke="#ff0000" stroke-width="2.2"/>
<line x1="904.9" y1="1030.8" x2="911.4" y2="1030.4" stroke="#ff0000" stroke-width="2.2"/>
<line x1="926" y1="1030.3" x2="932.4" y2="1030.7" stroke="#ff0000" stroke-width="2.2"/>
<line x1="947" y1="1031.3" x2="953.5" y2="1031.6" stroke="#ff0000" stroke-width="2.2"/>
<line x1="968" y1="1031.1" x2="974.6" y2="1030.4" stroke="#ff0000" stroke-width="2.2"/>
<line x1="989.1" y1="1028.5" x2="995.7" y2="1027.4" stroke="#ff0000" stroke-width="2.2"/>
<line x1="1010.2" y1="1027" x2="1016.7" y2="1027.6" stroke="#ff0000" stroke-width="2.2"/>
<line x1="1031.2" y1="1029.2" x2="1037.8" y2="1030.1" stroke="#ff0000" stroke-width="2.2"/>
<line x1="1052.3" y1="1030.7" x2="1058.8" y2="1030.3" stroke="#ff0000" stroke-width="2.2"/>
<line x1="1073.4" y1="1030.5" x2="1079.9" y2="1030.9" stroke="#ff0000" stroke-width="2.2"/>
<line x1="1094.4" y1="1030.7" x2="1100.9" y2="1030.1" stroke="#ff0000" stroke-width="2.2"/>
<line x1="1115.4" y1="1030.3" x2="1122" y2="1031.2" stroke="#ff0000" stroke-width="2.2"/>
<line x1="1136.6" y1="1031.8" x2="1143" y2="1031.6" stroke="#ff0000" stroke-width="2.2"/>
<line x1="1157.6" y1="1031.5" x2="1164.1" y2="1031.6" stroke="#ff0000" stroke-width="2.2"/>
<line x1="1178.7" y1="1031.9" x2="1185.1" y2="1031.9" stroke="#ff0000" stroke-width="2.2"/>
<line x1="1199.6" y1="1030.9" x2="1206.3" y2="1029.9" stroke="#ff0000" stroke-width="2.2"/>
<line x1="1220.8" y1="1029" x2="1227.2" y2="1029.1" stroke="#ff0000" stroke-width="2.2"/>
<line x1="1241.8" y1="1030.2" x2="1248.4" y2="1030.9" stroke="#ff0000" stroke-width="2.2"/>
<line x1="1262.9" y1="1032" x2="1269.4" y2="1032.3" stroke="#ff0000" stroke-width="2.2"/>
<line x1="1284" y1="1032.1" x2="1290.4" y2="1031.7" stroke="#ff0000" stroke-width="2.2"/>
<line x1="1305" y1="1031.5" x2="1311.5" y2="1031.6" stroke="#ff0000" stroke-width="2.2"/>
<line x1="1326" y1="1030.9" x2="1332.6" y2="1030.2" stroke="#ff0000" stroke-width="2.2"/>
<line x1="1347.1" y1="1030" x2="1353.6" y2="1030.6" stroke="#ff0000" stroke-width="2.2"/>
<line x1="1368.2" y1="1030.7" x2="1374.7" y2="1030.2" stroke="#ff0000" stroke-width="2.2"/>
<line x1="1389.3" y1="1029.5" x2="1395.7" y2="1029.4" stroke="#ff0000" stroke-width="2.2"/>
<line x1="1410.2" y1="1030.4" x2="1416.9" y2="1031.4" stroke="#ff0000" stroke-width="2.2"/>
<path d="M876.6,1022.1 L882.1,1031.3 L871.1,1031.3 Z" fill="#fff" stroke="#ff0000" stroke-width="1.2" stroke-linejoin="miter"/>
<path d="M897.6,1024.8 L903.1,1034 L892.1,1034 Z" fill="#fff" stroke="#ff0000" stroke-width="1.2" stroke-linejoin="miter"/>
<path d="M918.7,1023.6 L924.2,1032.8 L913.2,1032.8 Z" fill="#fff" stroke="#ff0000" stroke-width="1.2" stroke-linejoin="miter"/>
<path d="M939.7,1024.6 L945.2,1033.8 L934.2,1033.8 Z" fill="#fff" stroke="#ff0000" stroke-width="1.2" stroke-linejoin="miter"/>
<path d="M960.8,1025.5 L966.3,1034.7 L955.3,1034.7 Z" fill="#fff" stroke="#ff0000" stroke-width="1.2" stroke-linejoin="miter"/>
<path d="M981.8,1023.2 L987.3,1032.4 L976.3,1032.4 Z" fill="#fff" stroke="#ff0000" stroke-width="1.2" stroke-linejoin="miter"/>
<path d="M1002.9,1019.9 L1008.4,1029.1 L997.4,1029.1 Z" fill="#fff" stroke="#ff0000" stroke-width="1.2" stroke-linejoin="miter"/>
<path d="M1024,1021.9 L1029.5,1031.1 L1018.5,1031.1 Z" fill="#fff" stroke="#ff0000" stroke-width="1.2" stroke-linejoin="miter"/>
<path d="M1045,1024.6 L1050.5,1033.8 L1039.5,1033.8 Z" fill="#fff" stroke="#ff0000" stroke-width="1.2" stroke-linejoin="miter"/>
<path d="M1066.1,1023.6 L1071.6,1032.8 L1060.6,1032.8 Z" fill="#fff" stroke="#ff0000" stroke-width="1.2" stroke-linejoin="miter"/>
<path d="M1087.1,1025 L1092.6,1034.2 L1081.6,1034.2 Z" fill="#fff" stroke="#ff0000" stroke-width="1.2" stroke-linejoin="miter"/>
<path d="M1108.2,1023 L1113.7,1032.2 L1102.7,1032.2 Z" fill="#fff" stroke="#ff0000" stroke-width="1.2" stroke-linejoin="miter"/>
<path d="M1129.3,1025.7 L1134.8,1034.9 L1123.8,1034.9 Z" fill="#fff" stroke="#ff0000" stroke-width="1.2" stroke-linejoin="miter"/>
<path d="M1150.3,1024.9 L1155.8,1034.1 L1144.8,1034.1 Z" fill="#fff" stroke="#ff0000" stroke-width="1.2" stroke-linejoin="miter"/>
<path d="M1171.4,1025.4 L1176.9,1034.6 L1165.9,1034.6 Z" fill="#fff" stroke="#ff0000" stroke-width="1.2" stroke-linejoin="miter"/>
<path d="M1192.4,1025.6 L1197.9,1034.8 L1186.9,1034.8 Z" fill="#fff" stroke="#ff0000" stroke-width="1.2" stroke-linejoin="miter"/>
<path d="M1213.5,1022.4 L1219,1031.6 L1208,1031.6 Z" fill="#fff" stroke="#ff0000" stroke-width="1.2" stroke-linejoin="miter"/>
<path d="M1234.5,1022.9 L1240,1032.1 L1229,1032.1 Z" fill="#fff" stroke="#ff0000" stroke-width="1.2" stroke-linejoin="miter"/>
<path d="M1255.6,1025.4 L1261.1,1034.6 L1250.1,1034.6 Z" fill="#fff" stroke="#ff0000" stroke-width="1.2" stroke-linejoin="miter"/>
<path d="M1276.7,1026.1 L1282.2,1035.3 L1271.2,1035.3 Z" fill="#fff" stroke="#ff0000" stroke-width="1.2" stroke-linejoin="miter"/>
<path d="M1297.7,1024.9 L1303.2,1034.1 L1292.2,1034.1 Z" fill="#fff" stroke="#ff0000" stroke-width="1.2" stroke-linejoin="miter"/>
<path d="M1318.8,1025.4 L1324.3,1034.6 L1313.3,1034.6 Z" fill="#fff" stroke="#ff0000" stroke-width="1.2" stroke-linejoin="miter"/>
<path d="M1339.8,1022.9 L1345.3,1032.1 L1334.3,1032.1 Z" fill="#fff" stroke="#ff0000" stroke-width="1.2" stroke-linejoin="miter"/>
<path d="M1360.9,1024.9 L1366.4,1034.1 L1355.4,1034.1 Z" fill="#fff" stroke="#ff0000" stroke-width="1.2" stroke-linejoin="miter"/>
<path d="M1382,1023.2 L1387.5,1032.4 L1376.5,1032.4 Z" fill="#fff" stroke="#ff0000" stroke-width="1.2" stroke-linejoin="miter"/>
<path d="M1403,1022.9 L1408.5,1032.1 L1397.5,1032.1 Z" fill="#fff" stroke="#ff0000" stroke-width="1.2" stroke-linejoin="miter"/>
<path d="M1424.1,1026.1 L1429.6,1035.3 L1418.6,1035.3 Z" fill="#fff" stroke="#ff0000" stroke-width="1.2" stroke-linejoin="miter"/>
<text x="872.3" y="677.2" font-size="28.8" fill="#000" stroke="#000" textLength="273.77" lengthAdjust="spacing">Conversion@TaAlS-1</text>
<text x="1150.6" y="677.2" font-size="28.8" fill="#000" stroke="#000" text-anchor="start">(</text>
<path d="M1159.4,664.5 L1167.4,672.5 M1159.4,672.5 L1167.4,664.5" stroke="#000" stroke-width="1.6"/>
<text x="1168.8" y="677.2" font-size="28.8" fill="#000" stroke="#000" text-anchor="start">)</text>
<text x="872.3" y="713.4" font-size="28.8" fill="#000" stroke="#000" textLength="281.87" lengthAdjust="spacing">Conversion@HZSM-5</text>
<text x="1154.2" y="713.4" font-size="28.8" fill="#000" stroke="#000" text-anchor="start">(</text>
<rect x="1164.5" y="701.7" width="9.4" height="9.6" fill="none" stroke="#000" stroke-width="1"/>
<text x="1172.4" y="713.4" font-size="28.8" fill="#000" stroke="#000" text-anchor="start">)</text>
<text x="1225.9" y="802.1" font-size="28.8" fill="#ff0000" stroke="#ff0000" textLength="175.07" lengthAdjust="spacing">P/E@TaAlS-1</text>
<text x="1190.2" y="1065.2" font-size="28.8" fill="#ff0000" stroke="#ff0000" textLength="182.37" lengthAdjust="spacing">P/E@HZSM-5</text>
<text x="875.9" y="899.2" fill="#0000ff" stroke="#0000ff" textLength="229.31" lengthAdjust="spacing"><tspan font-size="28.8" dy="0">S(C</tspan><tspan font-size="18" dy="7.6">3</tspan><tspan font-size="28.8" dy="-7.6">H</tspan><tspan font-size="18" dy="7.6">6</tspan><tspan font-size="28.8" dy="-7.6">)@TaAlS-1</tspan></text>
<text x="875.3" y="983" fill="#0000ff" stroke="#0000ff" textLength="236.12" lengthAdjust="spacing"><tspan font-size="28.8" dy="0">S(C</tspan><tspan font-size="18" dy="7.6">3</tspan><tspan font-size="28.8" dy="-7.6">H</tspan><tspan font-size="18" dy="7.6">6</tspan><tspan font-size="28.8" dy="-7.6">)@HZSM-5</tspan></text>
<path d="M1324.3,717.6 L1324.3,680 L1410.4,680" fill="none" stroke="#ff0000" stroke-width="2.1"/>
<path d="M1422.4,680 L1395.8,670.9 L1403.4,680 L1395.8,689.1 Z" fill="#ff0000"/>
<path d="M1324.3,1009.2 L1324.3,986.6 L1410.6,986.6" fill="none" stroke="#ff0000" stroke-width="2.1"/>
<path d="M1422.6,986.6 L1396,977.5 L1403.6,986.6 L1396,995.7 Z" fill="#ff0000"/>
</svg></body></html>
